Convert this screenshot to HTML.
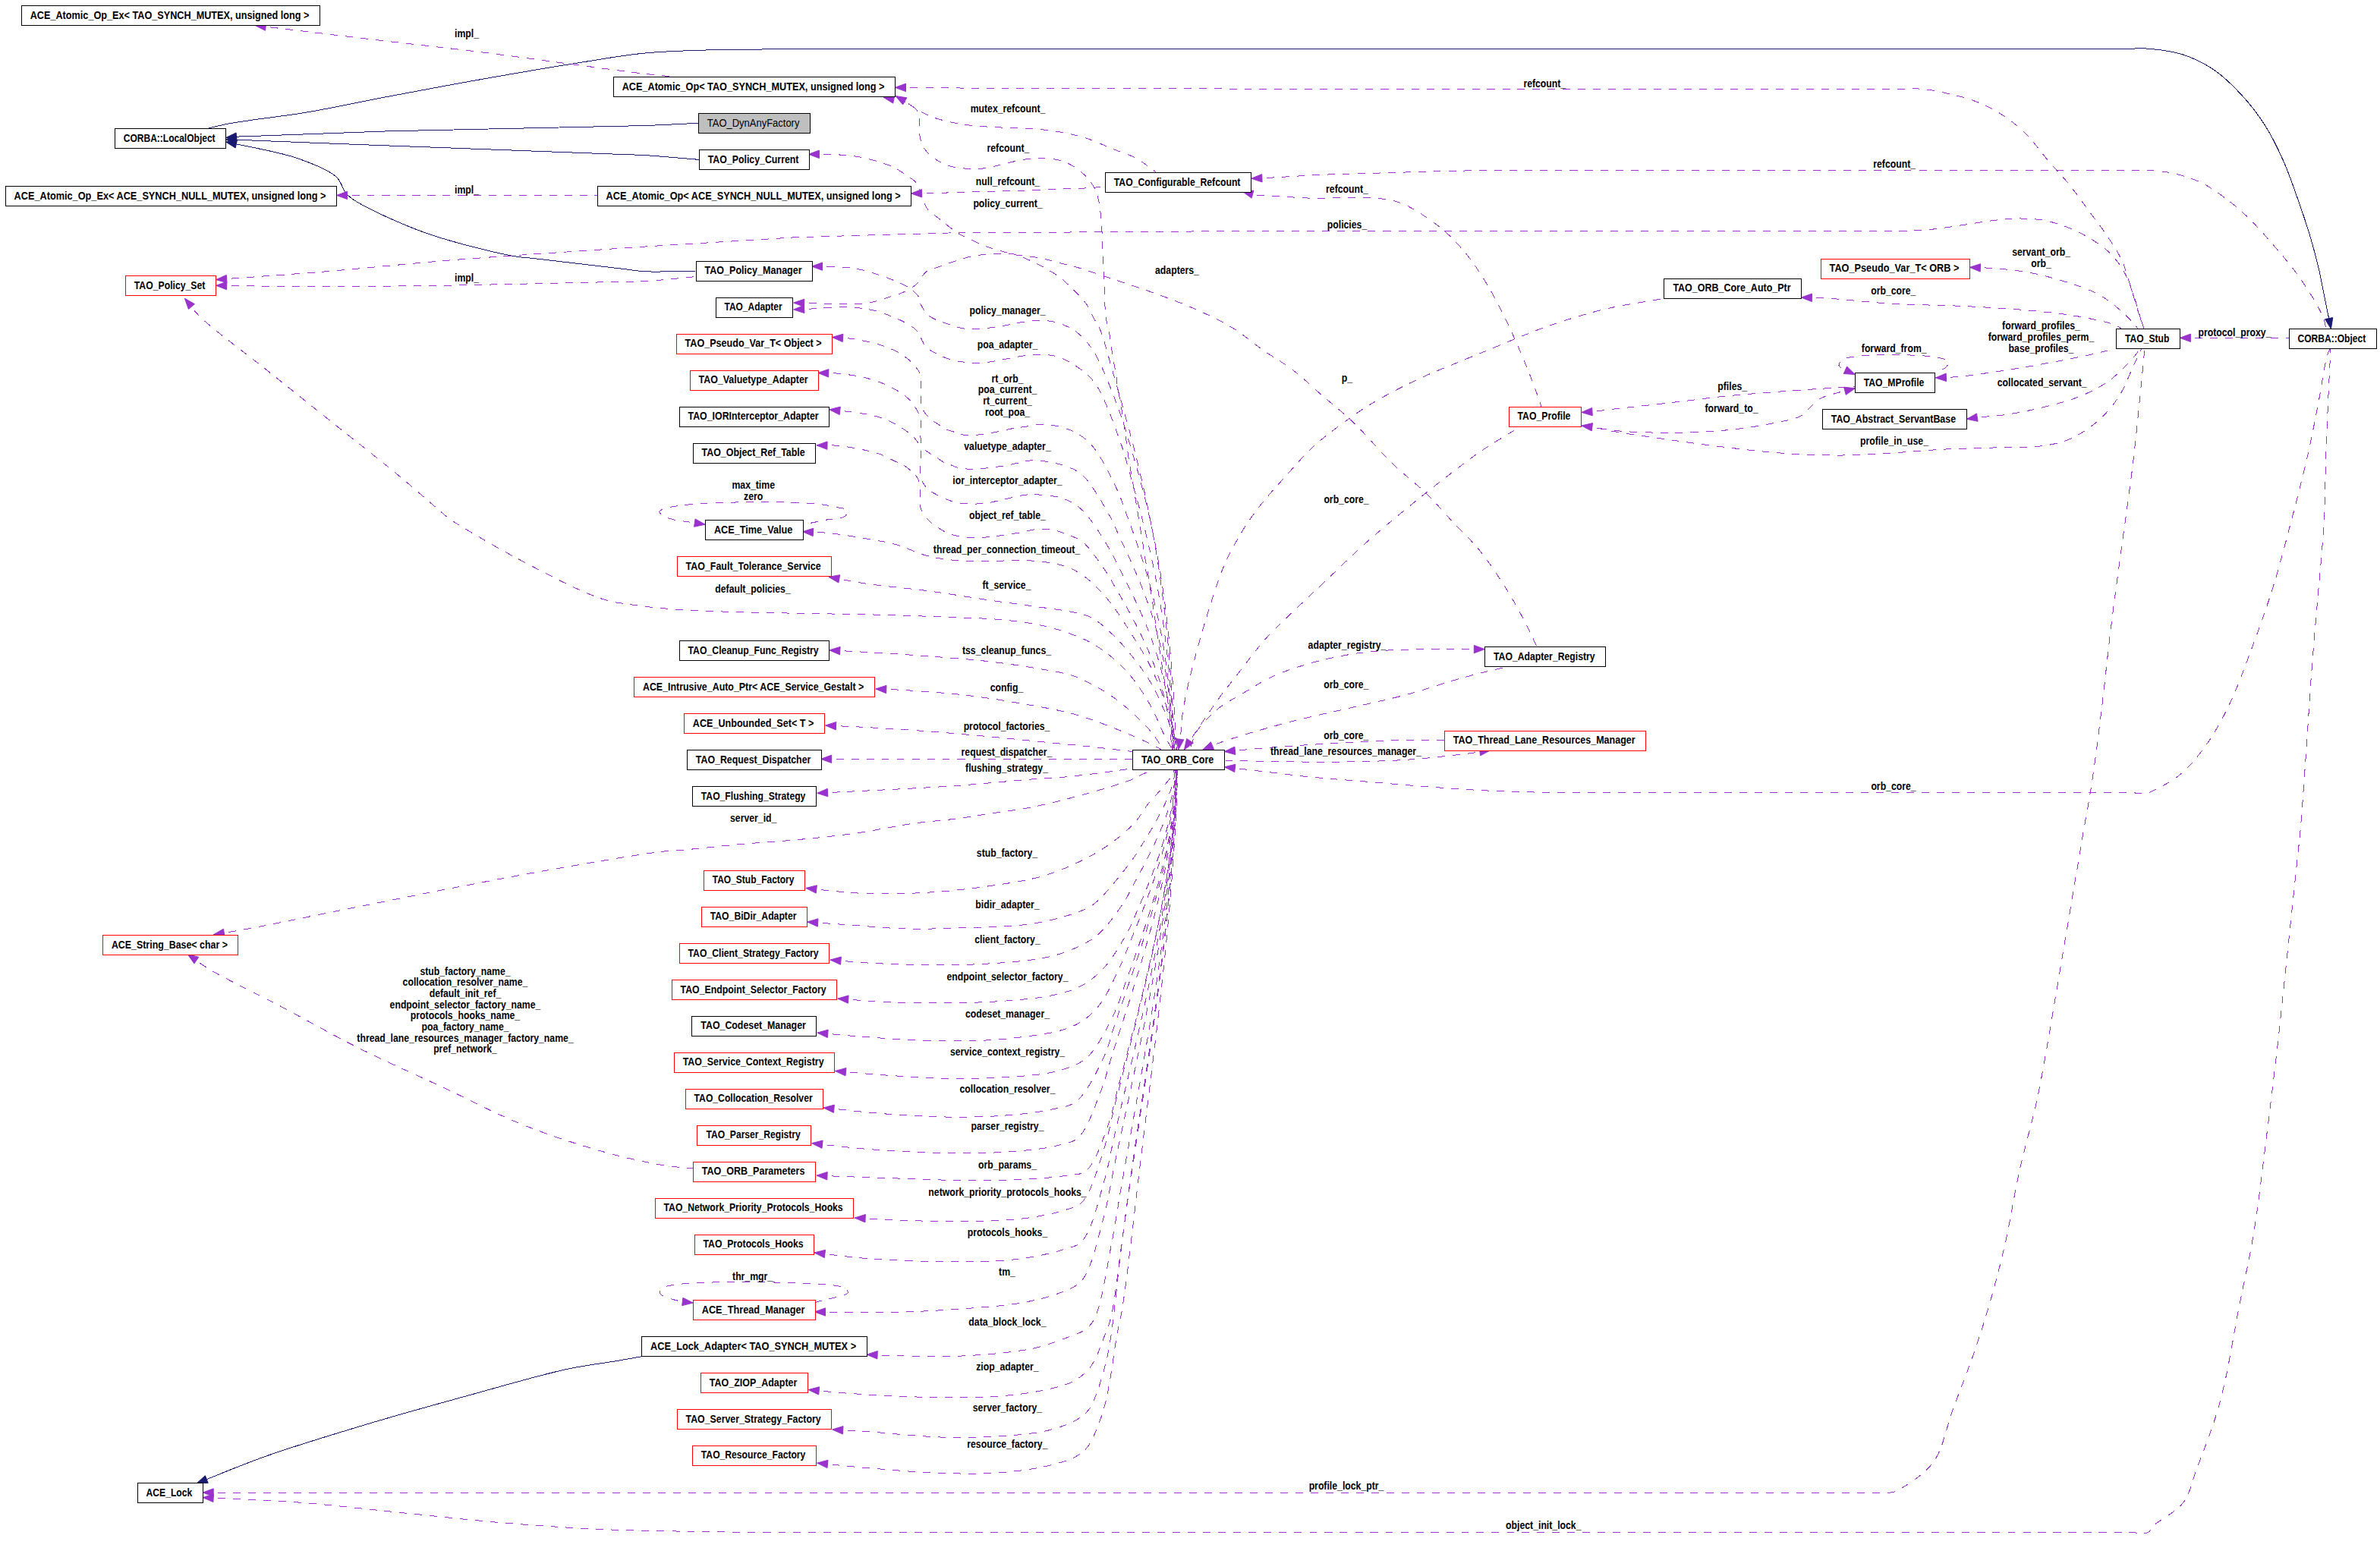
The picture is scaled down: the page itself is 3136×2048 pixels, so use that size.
<!DOCTYPE html>
<html><head><meta charset="utf-8"><style>
html,body{margin:0;padding:0;background:#fff;width:3136px;height:2048px;overflow:hidden}
svg{display:block}
text{font-family:"Liberation Sans",sans-serif;font-size:14.0px}
</style></head><body>
<svg width="3136" height="2048" viewBox="0 0 3136 2048">
<rect width="100%" height="100%" fill="#fff"/>
<g fill="none" stroke-width="1" shape-rendering="crispEdges">
<path d="M297.6,181.5C302.3,181.1 306.2,180.6 311.8,180.2C319.9,179.7 328.2,179.6 341.8,179.1C370.7,178.0 448.5,175.2 477.4,174.1C491.0,173.6 497.4,173.3 507.4,173.0C517.4,172.7 522.3,172.7 537.4,172.3C583.7,171.3 773.7,167.2 820.0,166.2C835.1,165.8 837.9,165.9 850.0,165.5C868.5,164.9 896.8,163.4 920.2,162.3" stroke="#191970"/>
<path d="M297.6,184.0C302.3,184.1 306.2,184.1 311.8,184.3C319.9,184.5 328.2,184.9 341.8,185.4C370.7,186.6 448.5,189.5 477.4,190.7C491.0,191.2 497.4,191.4 507.4,191.8C517.4,192.2 522.3,192.4 537.4,192.9C583.7,194.6 773.7,201.8 820.0,203.5C835.1,204.0 837.9,203.9 850.0,204.6C868.7,205.7 897.5,208.5 921.2,210.4" stroke="#191970"/>
<path d="M297.6,187.0C301.9,187.9 304.4,188.3 310.5,189.7C325.9,193.1 368.0,200.3 391.6,208.5C411.1,215.3 432.2,223.2 443.0,233.0C450.2,239.5 451.1,249.2 456.0,254.8C459.9,259.3 462.2,261.0 468.8,265.1C484.9,275.1 526.5,294.6 558.9,306.3C594.6,319.1 648.6,332.2 674.7,337.2C687.8,339.7 691.3,339.2 704.5,340.7C730.5,343.8 794.2,351.2 820.2,354.3C833.4,355.8 838.1,357.2 850.0,357.8C867.8,358.7 894.7,357.3 917.0,357.0" stroke="#191970"/>
<path d="M3071.4,433.3C3070.8,430.0 3070.3,427.4 3069.5,423.5C3068.3,417.7 3066.7,410.4 3064.9,401.8C3062.3,389.2 3059.2,370.8 3055.6,355.4C3052.0,339.9 3047.8,324.4 3043.2,309.0C3038.6,293.5 3033.3,278.3 3027.8,262.7C3022.0,246.4 3016.4,229.4 3009.2,213.2C3002.0,196.9 2994.0,180.1 2984.5,165.2C2975.3,150.8 2964.8,137.2 2953.5,125.0C2942.5,113.1 2931.0,101.5 2918.0,92.6C2905.2,83.8 2890.7,76.6 2876.2,71.9C2861.9,67.2 2844.9,65.4 2831.4,64.2C2820.4,63.3 2818.1,64.2 2801.4,64.2C2716.7,64.2 2114.7,64.2 2030.0,64.2C2013.3,64.2 2010.0,64.2 2000.0,64.2C1990.0,64.2 1986.8,64.2 1970.0,64.2C1881.0,64.2 1219.0,64.2 1130.0,64.2C1113.2,64.2 1110.0,64.2 1100.0,64.2C1090.0,64.2 1082.7,64.4 1070.0,64.5C1048.0,64.7 1002.0,65.0 980.0,65.2C967.3,65.3 962.9,65.2 950.0,65.5C926.4,66.1 881.9,67.0 850.0,70.0C820.4,72.8 796.1,77.5 764.8,82.4C726.3,88.5 678.9,96.6 636.0,104.2C593.1,111.8 547.9,120.3 507.4,128.0C471.1,134.9 436.0,142.7 404.4,148.0C377.7,152.5 349.3,155.6 330.0,158.5C317.8,160.3 309.7,161.3 300.0,163.2C290.8,165.0 282.1,167.3 273.2,169.4" stroke="#191970"/>
<path d="M259.3,1954.7C263.7,1953.0 266.2,1951.9 272.5,1949.5C287.8,1943.5 321.7,1929.2 351.6,1918.7C389.8,1905.2 439.4,1890.2 483.4,1877.0C527.2,1863.8 571.2,1851.7 615.2,1839.6C659.1,1827.5 710.4,1812.3 747.0,1804.4C772.6,1798.9 794.9,1796.6 813.0,1793.5C825.7,1791.3 834.7,1789.6 845.5,1787.7" stroke="#191970"/>
<path d="M336.2,33.5C350.4,35.2 360.7,36.4 378.7,38.6C410.0,42.4 464.5,48.9 507.4,54.0C550.3,59.1 593.1,63.6 636.0,69.0C678.9,74.4 726.3,81.1 764.8,86.2C796.1,90.3 826.9,94.6 850.0,97.3C865.8,99.1 876.6,100.0 889.9,101.3" stroke="#9a32cd" stroke-dasharray="10,10"/>
<path d="M443.6,257.4C453.6,257.4 458.5,257.4 473.6,257.4C520.0,257.4 710.3,257.4 756.7,257.4C771.8,257.4 776.7,257.4 786.7,257.4" stroke="#9a32cd" stroke-dasharray="10,10"/>
<path d="M284.7,376.3C333.1,376.8 399.7,377.9 430.0,377.9C443.8,377.9 447.2,377.7 460.0,377.6C482.7,377.4 531.9,376.8 554.6,376.6C567.4,376.5 574.6,376.5 584.6,376.3C594.6,376.1 600.1,376.0 614.6,375.7C652.5,374.9 782.1,372.1 820.0,371.3C834.5,371.0 838.0,371.4 850.0,370.7C867.9,369.7 894.7,366.6 917.0,364.5" stroke="#9a32cd" stroke-dasharray="10,10"/>
<path d="M1180.0,126.5C1183.0,128.1 1185.7,129.3 1189.0,131.3C1193.4,133.9 1198.4,137.8 1204.0,141.2C1210.8,145.3 1218.2,150.3 1227.2,153.8C1238.2,158.1 1252.9,161.1 1265.8,163.4C1278.6,165.6 1290.8,166.3 1304.4,167.3C1319.6,168.4 1337.5,168.1 1352.7,169.2C1366.3,170.2 1378.5,171.0 1391.3,173.1C1404.3,175.2 1417.3,177.9 1430.0,181.8C1443.0,185.8 1456.6,192.4 1468.5,197.2C1478.9,201.3 1488.4,203.8 1497.5,208.8C1506.7,213.8 1514.9,221.1 1523.6,227.2" stroke="#9a32cd" stroke-dasharray="10,10"/>
<path d="M1200.6,255.0C1209.5,254.9 1216.6,254.8 1227.2,254.6C1242.8,254.2 1265.8,253.4 1285.1,252.8C1304.4,252.3 1323.7,251.9 1343.0,251.3C1362.3,250.7 1383.6,249.7 1401.0,249.0C1415.2,248.4 1429.4,248.2 1439.6,247.4C1446.3,246.9 1450.7,246.2 1456.3,245.6" stroke="#9a32cd" stroke-dasharray="10,10"/>
<path d="M1164.0,128.2C1172.7,130.0 1182.4,130.4 1190.0,133.5C1196.8,136.3 1204.3,140.3 1207.9,145.1C1210.8,149.0 1211.1,153.6 1211.8,158.6C1212.6,164.4 1210.8,171.7 1211.8,177.9C1212.8,183.9 1214.4,190.2 1217.6,195.3C1220.8,200.5 1225.8,205.0 1231.1,208.8C1236.7,212.8 1243.4,216.3 1250.4,218.5C1258.0,220.9 1267.1,221.8 1275.5,222.3C1283.8,222.8 1292.5,222.6 1300.6,221.4C1308.5,220.3 1315.5,217.4 1323.7,215.6C1332.8,213.6 1344.0,211.0 1352.7,209.8C1359.8,208.8 1364.9,208.1 1372.0,208.4C1380.7,208.7 1392.2,209.6 1401.0,212.7C1409.4,215.7 1417.5,220.8 1424.1,226.2C1430.2,231.2 1435.7,237.3 1439.6,243.6C1443.3,249.6 1445.4,255.6 1447.3,262.9C1449.6,271.8 1450.2,282.8 1451.2,293.7C1452.3,305.8 1452.5,319.5 1453.1,332.4C1453.7,345.3 1454.4,357.5 1455.0,371.0C1455.7,385.7 1455.5,406.1 1457.0,417.3C1457.9,423.8 1459.4,427.2 1460.5,432.6C1461.7,438.8 1462.7,445.8 1463.7,452.4C1464.7,459.0 1465.4,465.6 1466.5,472.2C1467.6,478.8 1469.4,485.5 1470.4,492.0C1471.4,498.3 1471.5,504.1 1472.5,510.5C1473.6,517.3 1475.5,524.9 1476.7,531.7C1477.8,538.0 1478.7,543.8 1479.6,550.1C1480.6,556.6 1481.5,563.4 1482.4,570.0C1483.3,576.6 1484.3,583.2 1485.2,589.8C1486.1,596.4 1487.0,603.3 1488.0,609.6C1488.9,615.3 1490.0,620.0 1491.0,626.0C1492.3,633.2 1493.7,642.0 1495.0,650.0C1496.3,658.0 1497.5,666.4 1498.8,674.0C1499.9,681.0 1501.1,687.4 1502.2,694.0C1503.3,700.5 1504.5,707.0 1505.5,713.5C1506.5,720.0 1507.1,726.4 1508.2,733.0C1509.3,739.7 1511.2,746.7 1512.3,753.4C1513.4,759.8 1514.0,765.9 1515.0,772.3C1516.0,778.8 1517.4,785.6 1518.4,792.0C1519.4,798.1 1519.9,802.2 1521.0,810.0C1523.1,824.2 1526.8,850.0 1530.0,870.0C1533.2,890.0 1536.9,912.0 1540.0,930.0C1542.5,944.7 1545.2,959.3 1547.0,970.0C1548.2,977.2 1549.0,982.0 1550.0,988.0" stroke="#9a32cd" stroke-dasharray="10,10"/>
<path d="M1065.4,203.3C1070.6,203.3 1074.4,203.1 1080.9,203.3C1092.2,203.6 1111.9,203.5 1127.2,206.0C1142.8,208.6 1161.5,213.7 1173.6,218.8C1182.2,222.4 1188.3,226.9 1194.4,231.0C1199.5,234.5 1204.7,237.4 1207.9,241.6C1210.9,245.5 1211.7,250.2 1213.7,255.1C1216.1,260.9 1217.4,268.8 1221.4,274.4C1225.7,280.4 1232.8,284.3 1239.2,289.5C1246.2,295.2 1254.5,302.4 1261.9,307.1C1268.3,311.1 1274.4,313.6 1280.8,316.6C1287.4,319.7 1294.3,323.0 1301.0,325.4C1307.3,327.7 1313.8,329.3 1319.9,331.0C1325.6,332.6 1330.5,334.4 1336.3,335.5C1342.6,336.8 1349.9,337.0 1356.5,338.0C1362.9,338.9 1369.1,339.7 1375.4,341.1C1381.7,342.5 1388.0,344.6 1394.3,346.2C1400.6,347.8 1406.9,348.9 1413.2,350.6C1419.5,352.3 1425.8,354.3 1432.1,356.3C1438.4,358.3 1444.7,360.5 1451.0,362.6C1457.3,364.7 1461.9,366.2 1469.9,368.9C1484.1,373.7 1510.1,382.2 1529.0,389.2C1546.8,395.8 1564.1,402.3 1580.5,409.8C1596.2,417.0 1611.6,424.3 1625.7,433.1C1639.4,441.6 1651.3,452.4 1664.3,461.5C1677.1,470.4 1690.4,477.6 1703.0,487.2C1716.2,497.3 1728.5,509.3 1741.6,520.7C1755.2,532.5 1768.9,543.0 1783.1,556.6C1799.7,572.4 1817.5,594.2 1834.6,610.7C1850.2,625.7 1867.4,638.6 1881.0,651.9C1892.6,663.3 1900.9,673.6 1911.8,685.3C1923.9,698.3 1938.2,711.2 1950.5,726.5C1964.0,743.4 1978.2,765.3 1989.0,783.0C1998.1,797.8 2005.6,812.4 2012.0,825.0C2017.1,835.0 2020.7,843.1 2025.0,852.2" stroke="#9a32cd" stroke-dasharray="10,10"/>
<path d="M1045.7,399.0C1052.4,399.2 1057.9,399.3 1065.7,399.5C1076.5,399.8 1091.5,400.8 1104.4,400.8C1117.3,400.8 1131.4,401.3 1143.0,399.5C1152.9,398.0 1161.7,394.5 1170.0,392.0C1177.2,389.8 1183.6,388.3 1190.0,385.3C1196.6,382.2 1203.8,378.1 1209.0,373.3C1213.7,368.9 1215.6,361.8 1220.3,358.2C1224.9,354.7 1230.8,354.1 1236.7,351.9C1243.4,349.4 1251.2,346.6 1258.2,344.3C1264.7,342.2 1270.7,340.1 1277.0,338.6C1283.3,337.1 1289.7,336.2 1296.0,335.5C1302.3,334.8 1308.5,334.3 1314.9,334.2C1321.5,334.1 1328.3,333.5 1335.0,334.8C1342.2,336.2 1349.5,339.9 1356.5,343.0C1363.4,346.0 1370.0,349.4 1376.6,353.1C1383.4,356.9 1390.5,360.9 1396.8,365.7C1403.1,370.5 1408.8,376.4 1414.5,382.1C1420.2,387.8 1426.3,393.5 1430.8,399.8C1435.0,405.7 1437.6,412.6 1440.9,418.7C1443.9,424.3 1446.8,427.8 1449.8,435.0C1455.1,447.8 1460.9,472.0 1466.2,490.1C1471.3,507.6 1476.3,524.8 1481.0,541.9C1485.7,558.6 1490.1,575.0 1494.4,591.5C1498.5,607.9 1502.5,624.1 1506.2,640.4C1509.9,656.8 1513.4,673.1 1516.6,689.8C1519.9,706.6 1522.9,723.5 1525.6,740.8C1528.4,758.6 1530.9,776.5 1533.2,794.9C1535.6,814.0 1537.6,833.4 1539.5,853.3C1541.4,874.1 1543.0,895.4 1544.4,917.2C1545.8,940.2 1546.8,964.4 1548.0,988.0" stroke="#9a32cd" stroke-dasharray="10,10"/>
<path d="M1069.6,351.1C1076.9,351.1 1083.2,350.7 1091.5,351.1C1102.5,351.6 1117.3,352.1 1130.0,354.5C1143.0,357.0 1157.3,361.8 1168.7,366.0C1178.1,369.4 1188.1,373.8 1193.9,377.0C1197.2,378.8 1198.9,380.0 1201.4,382.1C1204.4,384.5 1208.7,388.0 1210.3,390.9C1211.4,393.0 1210.7,394.9 1211.5,397.2C1212.5,400.2 1215.0,404.4 1216.6,407.3C1217.9,409.7 1218.3,411.6 1220.3,413.6C1223.1,416.4 1228.3,419.0 1233.0,421.2C1238.3,423.7 1244.5,425.5 1250.6,427.5C1257.1,429.6 1264.0,432.3 1270.8,433.2C1277.4,434.1 1284.3,433.5 1290.9,433.2C1297.3,432.9 1303.5,432.1 1309.8,431.3C1316.1,430.4 1322.4,429.3 1328.7,428.1C1335.0,426.9 1341.3,425.3 1347.6,424.3C1353.9,423.4 1360.2,422.5 1366.6,422.4C1373.2,422.3 1380.2,422.4 1386.7,423.7C1393.2,425.0 1399.8,427.3 1405.6,430.0C1411.1,432.6 1415.7,435.1 1420.8,439.5C1427.6,445.4 1434.7,452.8 1441.5,463.8C1452.4,481.4 1465.5,516.5 1473.8,538.7C1480.2,555.8 1483.9,569.6 1488.6,585.0C1493.1,599.9 1497.5,614.7 1501.5,629.6C1505.5,644.3 1509.3,658.9 1512.8,673.7C1516.2,688.4 1519.4,703.2 1522.4,718.3C1525.3,733.5 1528.0,748.9 1530.5,764.5C1533.0,780.6 1535.2,796.9 1537.2,813.5C1539.2,830.8 1541.0,848.3 1542.6,866.4C1544.2,885.2 1545.6,904.4 1546.8,924.2C1548.1,944.9 1548.9,966.7 1550.0,988.0" stroke="#9a32cd" stroke-dasharray="10,10"/>
<path d="M1045.7,408.0C1052.4,407.7 1057.5,407.6 1065.7,407.2C1078.9,406.6 1101.6,403.9 1117.2,404.6C1130.2,405.2 1142.9,407.2 1152.9,409.5C1160.3,411.2 1165.7,413.5 1172.0,415.9C1178.3,418.3 1184.7,420.9 1190.5,424.0C1196.2,427.1 1203.1,430.9 1206.7,434.4C1209.1,436.7 1209.9,438.9 1211.4,441.4C1213.0,444.2 1214.5,447.8 1216.0,450.6C1217.2,452.9 1217.6,454.9 1219.5,457.0C1222.4,460.1 1228.3,463.0 1233.4,465.7C1239.0,468.7 1245.6,471.9 1252.0,473.8C1258.3,475.7 1265.1,476.5 1271.6,477.3C1277.8,478.0 1283.8,478.6 1290.0,478.4C1296.5,478.2 1303.3,477.1 1309.8,476.1C1316.1,475.1 1322.1,473.7 1328.3,472.6C1334.5,471.4 1340.6,470.0 1346.9,469.2C1353.4,468.3 1359.9,467.5 1367.0,467.5C1374.8,467.5 1383.6,467.3 1391.8,469.6C1400.8,472.1 1410.1,477.2 1418.5,483.0C1427.3,489.1 1435.4,494.6 1443.2,505.6C1455.7,523.2 1469.1,562.7 1477.2,585.2C1482.9,601.2 1485.5,613.2 1489.5,627.1C1493.3,640.6 1497.1,653.9 1500.7,667.3C1504.2,680.5 1507.6,693.6 1510.8,706.8C1513.9,720.0 1517.0,733.3 1519.7,746.7C1522.6,760.3 1525.2,774.0 1527.6,788.0C1530.0,802.4 1532.2,816.9 1534.2,831.8C1536.3,847.2 1538.1,862.9 1539.7,879.0C1541.4,895.9 1542.8,913.1 1544.0,930.8C1545.2,949.3 1546.0,968.9 1547.0,988.0" stroke="#9a32cd" stroke-dasharray="10,10"/>
<path d="M1096.6,444.5C1103.5,444.9 1109.6,444.9 1117.2,445.8C1126.9,447.0 1140.7,449.5 1150.0,451.8C1157.1,453.6 1162.5,455.3 1168.5,457.6C1174.5,459.9 1180.3,462.2 1185.9,465.7C1191.9,469.4 1198.7,474.6 1203.3,479.6C1207.3,483.9 1210.9,488.6 1212.5,493.5C1213.9,497.9 1212.9,503.0 1213.1,507.4C1213.3,511.4 1213.6,514.9 1213.7,519.0C1213.8,523.7 1212.6,529.4 1213.7,534.0C1214.8,538.3 1217.5,542.5 1220.0,545.8C1222.2,548.8 1224.7,551.0 1227.6,553.3C1230.7,555.8 1234.8,558.2 1238.0,560.3C1240.8,562.2 1243.1,564.1 1246.0,565.5C1249.2,567.0 1253.1,567.8 1256.5,569.0C1259.7,570.1 1262.5,571.6 1265.8,572.4C1269.4,573.2 1273.1,573.5 1277.4,573.6C1282.6,573.7 1288.8,573.1 1294.8,572.4C1301.2,571.6 1308.0,570.3 1314.4,569.0C1320.7,567.8 1326.9,566.0 1333.0,564.9C1338.8,563.9 1343.8,563.4 1350.0,562.5C1357.4,561.5 1365.5,558.7 1374.6,559.1C1386.1,559.6 1402.1,562.9 1413.2,568.1C1423.2,572.8 1430.8,578.1 1439.0,587.4C1450.7,600.7 1463.6,627.8 1471.7,644.9C1477.7,657.7 1480.8,668.3 1485.1,679.9C1489.3,691.3 1493.5,702.5 1497.3,713.8C1501.2,725.0 1504.9,736.1 1508.3,747.4C1511.8,758.7 1515.0,770.0 1518.0,781.6C1521.0,793.2 1523.8,805.0 1526.4,817.0C1529.0,829.3 1531.3,841.8 1533.4,854.6C1535.5,867.8 1537.4,881.3 1539.0,895.1C1540.7,909.5 1542.1,924.2 1543.2,939.3C1544.4,955.1 1545.1,971.8 1546.0,988.0" stroke="#9a32cd" stroke-dasharray="10,10"/>
<path d="M1077.8,491.4C1086.7,491.7 1094.7,491.3 1104.4,492.2C1116.1,493.3 1131.0,495.4 1143.0,498.6C1154.0,501.6 1164.3,505.2 1173.8,510.2C1183.1,515.1 1193.0,520.9 1199.6,528.2C1205.6,534.9 1210.3,543.2 1212.5,551.4C1214.7,559.5 1212.1,570.0 1213.0,577.1C1213.6,582.2 1213.9,586.6 1216.0,590.0C1217.8,593.0 1221.2,594.8 1224.0,596.7C1226.6,598.5 1229.3,599.5 1232.2,601.4C1235.8,603.7 1240.2,607.6 1243.8,609.5C1246.6,611.0 1249.0,611.3 1251.9,612.4C1255.2,613.6 1259.0,615.5 1262.3,616.4C1265.1,617.1 1267.5,617.3 1270.4,617.6C1273.9,618.0 1277.7,618.5 1282.0,618.5C1287.2,618.5 1294.5,617.5 1299.4,617.0C1303.0,616.6 1305.0,616.4 1308.7,615.9C1314.0,615.2 1321.9,614.2 1328.3,613.0C1334.6,611.8 1341.0,610.0 1346.9,608.9C1352.1,607.9 1355.6,606.7 1361.7,606.7C1371.6,606.8 1389.1,609.4 1400.4,613.1C1410.1,616.3 1417.7,618.7 1426.0,626.0C1438.4,636.9 1452.8,663.4 1461.6,678.8C1467.9,689.9 1471.1,698.9 1475.7,708.8C1480.3,718.4 1484.8,727.9 1489.1,737.5C1493.4,747.0 1497.6,756.5 1501.5,766.1C1505.4,775.7 1509.2,785.4 1512.7,795.4C1516.3,805.5 1519.6,815.8 1522.6,826.4C1525.7,837.4 1528.6,848.6 1531.1,860.2C1533.7,872.4 1536.0,884.8 1537.9,897.8C1539.9,911.4 1541.6,925.5 1542.9,940.0C1544.3,955.5 1545.0,972.0 1546.0,988.0" stroke="#9a32cd" stroke-dasharray="10,10"/>
<path d="M1092.8,539.8C1100.9,540.7 1108.5,541.3 1117.2,542.4C1127.3,543.7 1142.2,545.8 1150.0,547.5C1154.5,548.5 1156.5,549.0 1160.4,550.4C1165.5,552.2 1172.0,555.0 1177.8,558.0C1184.0,561.3 1191.5,566.0 1196.3,569.5C1199.7,572.0 1201.9,573.5 1204.4,576.5C1207.4,580.1 1210.9,584.1 1212.5,590.0C1215.0,598.9 1211.1,617.8 1212.5,626.0C1213.3,630.5 1214.1,632.8 1216.0,636.0C1218.2,639.7 1220.7,643.2 1225.3,646.6C1232.7,652.1 1248.7,659.3 1258.8,662.0C1266.5,664.1 1273.3,663.8 1280.0,664.0C1286.1,664.2 1291.2,664.0 1297.4,663.3C1304.5,662.5 1312.2,660.6 1320.0,659.0C1328.4,657.2 1338.4,654.2 1346.0,653.0C1351.9,652.1 1355.3,651.5 1361.7,651.7C1371.7,652.0 1389.2,653.0 1400.4,656.9C1410.2,660.3 1417.7,664.5 1426.0,672.3C1437.8,683.2 1451.6,706.8 1460.2,720.8C1466.2,730.7 1469.5,738.6 1474.0,747.4C1478.5,756.2 1483.0,764.8 1487.3,773.5C1491.6,782.2 1495.8,790.9 1499.8,799.7C1503.8,808.5 1507.7,817.3 1511.3,826.4C1515.0,835.5 1518.4,844.7 1521.5,854.2C1524.7,863.9 1527.7,873.7 1530.3,883.7C1532.9,894.1 1535.3,904.7 1537.2,915.5C1539.3,926.7 1540.9,938.3 1542.2,950.1C1543.6,962.4 1544.1,975.4 1545.0,988.0" stroke="#9a32cd" stroke-dasharray="10,10"/>
<path d="M1076.0,586.9C1085.5,587.1 1093.9,586.4 1104.4,587.4C1117.9,588.7 1139.7,593.0 1150.0,595.6C1155.4,597.0 1157.8,597.8 1162.2,599.6C1167.7,601.8 1175.1,606.0 1180.1,608.3C1183.7,610.0 1186.3,610.6 1189.4,612.4C1192.9,614.4 1196.8,617.4 1199.8,619.9C1202.4,622.0 1204.7,623.5 1206.7,626.3C1209.2,629.8 1211.4,634.5 1212.5,640.0C1214.0,647.4 1210.7,659.7 1212.5,667.2C1213.9,673.1 1217.2,678.0 1220.2,682.0C1222.7,685.3 1225.0,687.3 1228.5,690.0C1233.4,693.8 1241.0,699.1 1247.6,702.0C1253.8,704.8 1260.2,706.3 1266.8,707.4C1273.5,708.6 1281.0,708.8 1287.6,708.8C1293.7,708.8 1298.9,708.0 1305.0,707.4C1311.6,706.7 1318.9,705.8 1325.8,704.8C1332.8,703.8 1340.1,702.5 1346.7,701.3C1352.7,700.2 1358.2,698.4 1364.0,697.8C1369.8,697.2 1375.9,697.3 1381.4,697.8C1386.3,698.3 1390.4,699.1 1395.3,700.4C1400.9,702.0 1407.6,704.7 1413.0,707.0C1417.7,709.1 1421.3,709.7 1426.0,713.5C1434.4,720.3 1447.0,738.3 1454.6,749.3C1460.6,757.9 1464.4,765.3 1469.1,773.4C1473.9,781.5 1478.6,789.6 1483.2,797.7C1487.7,805.9 1492.2,814.1 1496.4,822.4C1500.7,830.7 1504.8,839.0 1508.7,847.5C1512.6,856.0 1516.2,864.6 1519.6,873.4C1523.0,882.2 1526.1,891.1 1528.9,900.2C1531.7,909.3 1534.2,918.6 1536.2,928.1C1538.3,937.7 1540.1,947.4 1541.4,957.3C1542.7,967.4 1543.1,977.8 1544.0,988.0" stroke="#9a32cd" stroke-dasharray="10,10"/>
<path d="M929.2,691.2C924.6,690.5 919.8,689.8 915.5,689.1C911.6,688.5 908.3,688.0 904.2,687.4C899.2,686.6 893.1,686.3 887.8,684.9C882.6,683.5 875.9,681.6 872.7,679.2C870.7,677.7 868.6,675.6 868.9,674.2C869.2,672.7 872.4,671.5 875.2,670.4C879.7,668.6 887.0,667.7 894.1,666.6C903.2,665.2 914.6,664.2 925.6,663.5C937.6,662.7 950.8,662.6 963.4,662.2C976.0,661.8 988.7,661.3 1001.3,661.3C1013.9,661.3 1026.5,661.7 1039.1,662.2C1051.7,662.7 1065.6,662.8 1076.9,664.1C1086.2,665.1 1095.0,666.9 1102.1,668.5C1107.4,669.7 1114.6,669.8 1116.0,672.3C1117.1,674.2 1115.8,678.3 1113.5,680.3C1109.6,683.8 1097.6,683.4 1089.5,685.0C1081.2,686.6 1070.0,689.0 1064.3,690.0C1061.4,690.5 1059.9,690.7 1057.7,691.0" stroke="#9a32cd" stroke-dasharray="10,10"/>
<path d="M1057.5,700.7C1068.8,701.3 1079.0,701.2 1091.5,702.5C1106.9,704.1 1127.1,707.4 1143.0,710.2C1156.8,712.6 1168.9,714.3 1181.6,717.9C1194.6,721.6 1207.2,728.7 1220.2,732.1C1232.9,735.5 1245.9,737.2 1258.8,738.5C1271.6,739.8 1283.6,739.7 1297.4,739.8C1313.3,739.9 1333.0,737.9 1348.9,738.5C1362.7,739.0 1376.0,740.1 1387.5,742.4C1397.0,744.3 1404.9,746.1 1413.2,750.1C1422.2,754.4 1430.8,760.9 1439.0,768.1C1448.0,776.1 1456.5,785.9 1464.7,796.4C1473.7,808.0 1482.1,821.6 1490.5,835.0C1499.3,849.0 1508.6,863.3 1516.2,878.8C1524.1,895.0 1531.2,913.2 1536.8,930.3C1542.2,946.6 1547.8,969.4 1549.6,979.2C1550.3,983.3 1550.2,985.1 1550.5,988.0" stroke="#9a32cd" stroke-dasharray="10,10"/>
<path d="M1092.0,760.4C1109.0,763.4 1124.2,766.6 1143.0,769.4C1166.0,772.8 1194.5,775.0 1220.2,778.4C1246.0,781.8 1272.8,786.4 1297.4,790.0C1319.8,793.3 1341.5,796.1 1361.7,799.0C1379.8,801.6 1399.1,803.6 1413.2,806.7C1423.4,809.0 1430.8,810.1 1439.0,814.4C1448.1,819.2 1456.4,827.2 1464.7,835.0C1473.6,843.4 1482.2,853.0 1490.5,863.3C1499.4,874.4 1508.6,886.4 1516.2,899.4C1524.1,912.9 1531.3,929.1 1536.8,943.1C1541.7,955.5 1546.6,971.2 1548.4,979.2C1549.3,983.1 1549.1,985.1 1549.5,988.0" stroke="#9a32cd" stroke-dasharray="10,10"/>
<path d="M243.4,393.3C250.2,401.4 253.9,407.9 263.7,417.5C282.2,435.6 322.3,464.4 351.6,487.8C380.9,511.2 410.1,534.6 439.4,558.0C468.7,581.4 500.8,606.4 527.3,628.4C549.8,647.0 577.6,672.2 588.9,681.1C593.0,684.3 593.1,684.5 597.6,687.4C611.1,696.1 651.0,719.8 681.1,735.7C714.9,753.6 762.1,778.8 791.0,788.5C808.5,794.4 818.8,794.9 835.0,797.3C854.7,800.2 874.6,802.1 900.9,803.8C939.8,806.3 1002.4,807.2 1045.9,808.2C1081.5,809.0 1110.2,809.0 1143.0,809.8C1176.8,810.6 1214.2,811.9 1246.0,813.2C1273.5,814.3 1299.9,814.7 1323.0,817.0C1342.0,818.9 1358.8,821.2 1374.6,824.7C1388.5,827.8 1401.7,832.0 1413.2,836.3C1422.8,839.9 1430.6,843.1 1439.0,847.9C1447.8,852.9 1456.4,858.9 1464.7,865.9C1473.6,873.4 1482.4,881.8 1490.5,891.7C1499.7,902.9 1508.8,917.1 1516.2,930.3C1523.3,942.9 1528.8,958.4 1534.2,968.9C1538.1,976.5 1541.4,981.6 1545.0,988.0" stroke="#9a32cd" stroke-dasharray="10,10"/>
<path d="M1092.8,856.9C1109.5,857.8 1124.5,858.4 1143.0,859.5C1166.0,860.9 1194.5,862.7 1220.2,864.6C1245.9,866.5 1272.9,868.4 1297.4,871.1C1319.8,873.6 1341.5,876.7 1361.7,880.1C1379.9,883.2 1399.2,885.9 1413.2,890.4C1423.5,893.7 1430.5,897.6 1439.0,902.0C1447.7,906.5 1456.3,911.6 1464.7,917.4C1473.5,923.5 1482.1,930.5 1490.5,938.0C1499.3,945.9 1509.4,955.6 1516.2,963.7C1521.5,970.0 1526.0,977.3 1529.0,981.8C1530.7,984.4 1531.7,985.9 1533.0,988.0" stroke="#9a32cd" stroke-dasharray="10,10"/>
<path d="M1153.8,907.9C1167.3,908.5 1178.7,908.7 1194.4,909.7C1216.1,911.1 1246.0,913.1 1271.7,916.1C1297.5,919.1 1324.4,923.4 1348.9,927.7C1371.4,931.6 1394.6,935.7 1413.2,940.6C1427.8,944.5 1439.0,948.7 1451.8,953.4C1464.8,958.1 1478.1,963.6 1490.5,968.9C1502.1,973.9 1517.3,980.8 1523.9,984.3C1526.8,985.8 1528.0,986.8 1530.0,988.0" stroke="#9a32cd" stroke-dasharray="10,10"/>
<path d="M1087.6,956.0C1106.1,956.9 1123.0,957.5 1143.0,958.6C1166.6,959.9 1194.5,961.8 1220.2,963.7C1245.9,965.6 1271.7,967.8 1297.4,970.2C1323.1,972.6 1350.0,975.5 1374.6,977.9C1397.0,980.1 1418.5,982.1 1439.0,984.3C1457.6,986.3 1474.6,988.4 1492.4,990.5" stroke="#9a32cd" stroke-dasharray="10,10"/>
<path d="M1081.7,1000.3C1091.7,1000.3 1096.2,1000.3 1111.7,1000.3C1164.6,1000.3 1409.5,1000.3 1462.4,1000.3C1477.9,1000.3 1482.4,1000.3 1492.4,1000.3" stroke="#9a32cd" stroke-dasharray="10,10"/>
<path d="M1076.6,1045.3C1098.7,1044.2 1118.2,1043.3 1143.0,1042.0C1174.4,1040.4 1220.6,1038.2 1250.0,1036.2C1270.6,1034.8 1285.0,1033.5 1302.5,1032.0C1320.0,1030.5 1337.5,1028.7 1355.0,1027.3C1372.5,1025.9 1390.1,1025.3 1407.6,1023.6C1425.1,1021.9 1444.6,1019.3 1460.0,1017.3C1472.1,1015.7 1481.6,1014.2 1492.4,1012.6" stroke="#9a32cd" stroke-dasharray="10,10"/>
<path d="M281.5,1231.7C297.7,1228.9 310.8,1227.0 330.2,1223.4C359.2,1218.0 399.7,1209.5 438.3,1201.8C482.9,1192.9 534.3,1182.3 582.4,1173.0C630.4,1163.7 678.5,1154.4 726.6,1146.0C774.6,1137.6 840.8,1126.1 870.7,1122.5C884.1,1120.9 888.0,1121.3 900.0,1120.2C919.3,1118.5 950.4,1114.9 975.6,1112.6C1000.8,1110.3 1026.1,1109.0 1051.3,1106.6C1076.5,1104.2 1101.8,1101.7 1126.9,1098.2C1152.2,1094.7 1179.0,1088.7 1202.5,1085.4C1222.9,1082.5 1242.3,1081.3 1260.0,1079.0C1275.3,1077.0 1287.6,1074.8 1302.5,1072.5C1319.1,1070.0 1337.6,1067.9 1355.0,1064.6C1372.6,1061.3 1390.1,1057.0 1407.6,1052.5C1425.1,1048.0 1444.8,1042.5 1460.0,1037.8C1471.9,1034.2 1484.5,1030.2 1491.6,1027.3C1495.4,1025.7 1496.5,1024.7 1500.0,1023.1C1505.4,1020.5 1516.7,1014.8 1521.0,1013.7C1522.8,1013.2 1523.7,1013.5 1525.0,1013.4" stroke="#9a32cd" stroke-dasharray="10,10"/>
<path d="M247.3,1257.7C256.9,1264.3 263.5,1270.0 276.1,1277.5C297.5,1290.4 334.8,1307.8 366.2,1324.3C400.6,1342.4 438.0,1363.9 474.3,1382.0C510.1,1399.9 546.4,1415.6 582.4,1432.4C618.4,1449.2 654.0,1468.4 690.5,1482.9C726.1,1497.1 766.0,1509.8 798.6,1518.9C824.9,1526.2 850.7,1531.6 870.7,1535.1C884.7,1537.5 899.7,1538.8 906.8,1539.5C909.8,1539.8 911.1,1539.8 913.2,1540.0" stroke="#9a32cd" stroke-dasharray="10,10"/>
<path d="M1061.9,1170.4C1071.8,1171.5 1080.3,1172.6 1091.5,1173.7C1106.3,1175.1 1124.1,1177.0 1143.0,1177.6C1166.1,1178.3 1194.5,1177.8 1220.2,1176.3C1246.0,1174.8 1271.7,1172.2 1297.4,1168.6C1323.2,1164.9 1351.8,1161.0 1374.6,1154.4C1393.8,1148.9 1410.4,1141.5 1426.0,1133.8C1440.1,1126.8 1452.9,1119.3 1464.7,1110.7C1476.0,1102.5 1487.5,1092.7 1495.6,1083.7C1502.2,1076.4 1505.5,1068.8 1511.0,1061.8C1516.6,1054.7 1523.5,1047.7 1529.0,1041.2C1533.8,1035.5 1538.7,1030.1 1542.0,1025.0C1544.6,1020.9 1546.0,1017.3 1548.0,1013.4" stroke="#9a32cd" stroke-dasharray="10,10"/>
<path d="M1063.7,1215.0C1081.5,1216.3 1097.7,1217.5 1117.2,1218.8C1140.6,1220.4 1168.6,1223.4 1194.4,1224.0C1220.1,1224.6 1245.9,1223.6 1271.7,1222.7C1297.4,1221.8 1325.9,1221.7 1348.9,1218.8C1367.9,1216.4 1384.7,1213.2 1400.4,1208.5C1414.4,1204.3 1428.0,1200.2 1439.0,1193.0C1449.2,1186.2 1456.0,1177.2 1464.7,1167.3C1475.1,1155.5 1490.1,1135.8 1496.7,1126.3C1500.1,1121.5 1501.3,1118.8 1503.7,1115.0C1506.2,1111.0 1508.7,1107.0 1511.2,1102.8C1513.7,1098.6 1516.3,1094.4 1518.8,1090.1C1521.3,1085.7 1523.8,1081.3 1526.2,1076.9C1528.6,1072.5 1530.9,1068.0 1533.1,1063.5C1535.2,1059.1 1537.3,1054.7 1539.1,1050.3C1540.8,1045.9 1542.5,1041.6 1543.9,1037.3C1545.2,1033.2 1546.3,1029.0 1547.1,1025.0C1547.9,1021.1 1548.0,1017.3 1548.5,1013.4" stroke="#9a32cd" stroke-dasharray="10,10"/>
<path d="M1094.0,1265.0C1110.3,1266.3 1124.8,1268.0 1143.0,1269.0C1165.8,1270.3 1194.5,1271.4 1220.2,1271.6C1245.9,1271.8 1271.7,1271.8 1297.4,1270.3C1323.2,1268.8 1353.4,1266.7 1374.6,1262.5C1389.8,1259.5 1401.1,1256.2 1413.2,1251.0C1425.1,1245.9 1436.2,1240.7 1446.7,1231.7C1459.4,1220.8 1474.0,1199.5 1481.8,1187.7C1486.6,1180.5 1488.4,1175.4 1491.7,1169.2C1495.1,1163.0 1498.5,1156.7 1501.9,1150.5C1505.2,1144.2 1508.6,1137.9 1511.8,1131.5C1515.0,1125.1 1518.2,1118.8 1521.2,1112.3C1524.2,1105.9 1527.2,1099.4 1529.8,1092.9C1532.5,1086.4 1535.0,1079.9 1537.3,1073.3C1539.5,1066.7 1541.5,1060.1 1543.2,1053.5C1544.8,1046.9 1546.2,1040.2 1547.2,1033.5C1548.1,1026.9 1548.4,1020.1 1549.0,1013.4" stroke="#9a32cd" stroke-dasharray="10,10"/>
<path d="M1103.8,1316.1C1125.4,1317.6 1146.1,1319.5 1168.7,1320.5C1193.3,1321.5 1220.2,1322.0 1245.9,1321.8C1271.6,1321.6 1298.5,1321.1 1323.0,1319.2C1345.5,1317.5 1368.9,1315.7 1387.5,1311.5C1402.2,1308.2 1414.4,1305.1 1426.0,1298.6C1437.6,1292.2 1447.5,1283.6 1457.0,1272.8C1468.4,1259.9 1480.6,1237.9 1487.7,1224.6C1492.4,1215.9 1494.4,1209.6 1497.7,1202.0C1501.0,1194.4 1504.3,1186.8 1507.5,1179.2C1510.6,1171.5 1513.7,1163.9 1516.7,1156.2C1519.7,1148.5 1522.5,1140.7 1525.2,1132.9C1527.9,1125.2 1530.5,1117.4 1532.8,1109.5C1535.1,1101.7 1537.3,1093.8 1539.2,1085.8C1541.1,1077.9 1542.9,1069.9 1544.3,1061.9C1545.7,1053.9 1546.9,1045.9 1547.8,1037.8C1548.7,1029.7 1548.9,1021.5 1549.5,1013.4" stroke="#9a32cd" stroke-dasharray="10,10"/>
<path d="M1076.8,1361.1C1098.9,1363.0 1118.5,1365.1 1143.0,1366.8C1173.5,1368.9 1212.8,1371.9 1246.0,1372.0C1277.0,1372.1 1307.3,1371.5 1336.0,1368.0C1362.8,1364.7 1393.5,1361.5 1413.2,1352.6C1427.6,1346.1 1436.9,1338.3 1446.7,1326.9C1458.5,1313.1 1468.8,1288.3 1476.1,1273.1C1481.2,1262.4 1483.8,1254.4 1487.6,1245.0C1491.5,1235.6 1495.3,1226.2 1499.1,1216.8C1502.8,1207.4 1506.5,1198.0 1510.0,1188.5C1513.5,1179.0 1517.0,1169.5 1520.2,1160.0C1523.5,1150.5 1526.6,1140.9 1529.4,1131.3C1532.3,1121.7 1535.0,1112.0 1537.3,1102.3C1539.7,1092.6 1541.8,1082.8 1543.6,1073.0C1545.3,1063.2 1546.8,1053.3 1547.9,1043.4C1549.0,1033.5 1549.3,1023.4 1550.0,1013.4" stroke="#9a32cd" stroke-dasharray="10,10"/>
<path d="M1100.5,1411.5C1123.2,1413.4 1145.2,1415.5 1168.7,1417.1C1193.6,1418.8 1220.3,1420.9 1246.0,1421.3C1271.7,1421.7 1298.5,1421.3 1323.0,1419.7C1345.5,1418.3 1369.0,1417.1 1387.5,1412.8C1402.2,1409.4 1416.5,1404.7 1426.0,1398.6C1432.9,1394.2 1436.1,1390.3 1441.5,1383.2C1450.3,1371.6 1462.4,1348.2 1469.5,1332.7C1475.1,1320.2 1477.9,1309.4 1482.1,1297.8C1486.3,1286.2 1490.5,1274.6 1494.6,1263.0C1498.6,1251.4 1502.7,1239.8 1506.5,1228.1C1510.4,1216.5 1514.2,1204.8 1517.7,1193.1C1521.3,1181.5 1524.7,1169.7 1527.8,1158.0C1530.9,1146.2 1533.8,1134.4 1536.4,1122.5C1539.0,1110.6 1541.3,1098.6 1543.3,1086.6C1545.2,1074.6 1546.9,1062.5 1548.1,1050.3C1549.3,1038.1 1549.7,1025.7 1550.5,1013.4" stroke="#9a32cd" stroke-dasharray="10,10"/>
<path d="M1085.0,1459.9C1112.9,1462.6 1141.3,1466.1 1168.7,1468.1C1195.0,1470.0 1220.3,1471.7 1246.0,1472.0C1271.7,1472.3 1298.5,1472.1 1323.0,1470.2C1345.5,1468.5 1370.1,1465.7 1387.5,1461.7C1399.8,1458.9 1408.9,1458.9 1418.4,1451.4C1432.2,1440.4 1446.1,1410.9 1454.7,1392.5C1461.6,1377.8 1464.0,1364.6 1468.7,1350.7C1473.4,1336.9 1478.3,1323.0 1483.0,1309.2C1487.7,1295.4 1492.5,1281.6 1497.1,1267.8C1501.6,1254.0 1506.2,1240.2 1510.5,1226.3C1514.8,1212.5 1518.9,1198.6 1522.7,1184.7C1526.6,1170.7 1530.2,1156.7 1533.4,1142.7C1536.6,1128.6 1539.5,1114.5 1542.0,1100.2C1544.4,1086.0 1546.5,1071.6 1548.0,1057.2C1549.5,1042.7 1550.0,1028.0 1551.0,1013.4" stroke="#9a32cd" stroke-dasharray="10,10"/>
<path d="M1069.6,1506.7C1094.1,1509.3 1116.4,1512.3 1143.0,1514.4C1174.4,1516.8 1212.8,1519.2 1246.0,1519.6C1277.0,1520.0 1309.2,1519.7 1336.0,1517.5C1357.8,1515.7 1379.7,1513.4 1395.2,1509.3C1405.8,1506.5 1413.3,1506.2 1421.0,1499.0C1433.0,1487.9 1442.7,1457.8 1450.3,1438.6C1456.8,1422.2 1460.0,1407.3 1465.0,1391.6C1469.9,1376.1 1474.9,1360.5 1479.9,1345.0C1484.8,1329.5 1489.8,1314.0 1494.6,1298.5C1499.4,1283.0 1504.1,1267.6 1508.6,1252.0C1513.0,1236.5 1517.4,1221.0 1521.4,1205.3C1525.4,1189.7 1529.1,1174.1 1532.5,1158.3C1535.8,1142.6 1538.9,1126.7 1541.5,1110.8C1544.0,1094.8 1546.2,1078.7 1547.8,1062.5C1549.4,1046.2 1549.9,1029.8 1551.0,1013.4" stroke="#9a32cd" stroke-dasharray="10,10"/>
<path d="M1076.0,1549.2C1106.9,1550.3 1137.0,1551.5 1168.7,1552.5C1202.1,1553.6 1239.8,1555.4 1271.7,1555.6C1299.3,1555.8 1325.2,1555.6 1348.9,1554.3C1369.2,1553.2 1390.4,1551.7 1405.5,1549.2C1415.8,1547.5 1423.7,1549.0 1431.3,1542.8C1443.4,1532.9 1453.0,1502.0 1460.2,1482.3C1466.7,1464.6 1469.4,1447.6 1474.0,1430.3C1478.6,1413.0 1483.2,1395.9 1487.7,1378.7C1492.2,1361.6 1496.7,1344.5 1501.0,1327.4C1505.2,1310.4 1509.4,1293.3 1513.4,1276.2C1517.4,1259.1 1521.2,1242.0 1524.7,1224.8C1528.2,1207.6 1531.5,1190.4 1534.4,1173.1C1537.4,1155.7 1540.1,1138.3 1542.3,1120.7C1544.6,1103.1 1546.5,1085.4 1547.9,1067.6C1549.4,1049.6 1550.0,1031.5 1551.0,1013.4" stroke="#9a32cd" stroke-dasharray="10,10"/>
<path d="M1126.2,1605.0C1148.9,1606.1 1170.9,1607.6 1194.4,1608.4C1219.4,1609.2 1245.9,1610.1 1271.7,1609.7C1297.4,1609.3 1325.9,1608.7 1348.9,1605.8C1367.9,1603.4 1386.4,1600.0 1400.4,1595.5C1410.6,1592.2 1418.5,1591.8 1426.0,1584.0C1438.3,1571.3 1447.3,1536.5 1454.6,1514.3C1460.9,1495.0 1463.8,1477.1 1468.4,1458.5C1473.1,1440.1 1477.9,1421.7 1482.5,1403.4C1487.2,1385.1 1491.9,1366.8 1496.5,1348.6C1501.0,1330.3 1505.5,1312.1 1509.8,1293.9C1514.0,1275.6 1518.2,1257.4 1522.0,1239.1C1525.8,1220.7 1529.5,1202.3 1532.7,1183.8C1535.9,1165.3 1538.9,1146.7 1541.4,1128.0C1543.9,1109.2 1546.0,1090.3 1547.6,1071.3C1549.3,1052.1 1549.9,1032.7 1551.0,1013.4" stroke="#9a32cd" stroke-dasharray="10,10"/>
<path d="M1073.0,1650.9C1096.3,1653.5 1117.4,1656.7 1143.0,1658.6C1174.0,1660.9 1212.8,1662.4 1246.0,1662.5C1277.0,1662.6 1308.6,1663.0 1336.0,1659.9C1359.4,1657.2 1384.0,1652.3 1400.4,1647.0C1411.1,1643.6 1418.6,1643.4 1426.0,1635.4C1438.7,1621.7 1447.3,1582.6 1454.5,1558.2C1460.8,1536.9 1463.6,1517.5 1468.3,1497.3C1472.9,1477.2 1477.6,1457.3 1482.3,1437.3C1487.0,1417.4 1491.7,1397.5 1496.2,1377.7C1500.7,1357.8 1505.2,1338.1 1509.5,1318.2C1513.7,1298.4 1517.9,1278.6 1521.7,1258.6C1525.5,1238.7 1529.2,1218.7 1532.4,1198.7C1535.7,1178.5 1538.7,1158.3 1541.2,1138.0C1543.7,1117.5 1545.9,1097.0 1547.5,1076.3C1549.2,1055.5 1549.8,1034.4 1551.0,1013.4" stroke="#9a32cd" stroke-dasharray="10,10"/>
<path d="M1073.5,1728.9C1105.2,1729.1 1137.4,1730.2 1168.7,1729.6C1199.2,1729.0 1228.8,1727.7 1258.8,1725.5C1288.9,1723.3 1323.2,1721.3 1348.9,1716.5C1368.6,1712.8 1386.5,1708.3 1400.4,1702.3C1410.8,1697.8 1418.6,1696.1 1426.0,1686.9C1438.7,1671.2 1447.1,1630.4 1454.3,1604.2C1460.6,1581.1 1463.3,1560.1 1467.9,1538.1C1472.5,1516.3 1477.2,1494.6 1481.8,1472.9C1486.5,1451.3 1491.2,1429.8 1495.7,1408.2C1500.2,1386.7 1504.7,1365.3 1509.0,1343.8C1513.2,1322.3 1517.4,1300.8 1521.2,1279.2C1525.1,1257.6 1528.7,1236.0 1532.0,1214.2C1535.3,1192.4 1538.3,1170.5 1540.9,1148.5C1543.4,1126.3 1545.7,1104.1 1547.4,1081.7C1549.1,1059.0 1549.8,1036.2 1551.0,1013.4" stroke="#9a32cd" stroke-dasharray="10,10"/>
<path d="M1142.1,1785.2C1158.5,1785.8 1173.1,1786.7 1191.2,1787.0C1213.7,1787.4 1242.8,1788.0 1266.9,1787.0C1288.9,1786.1 1311.6,1784.2 1329.9,1781.9C1344.1,1780.1 1355.2,1778.7 1367.7,1775.6C1380.4,1772.4 1394.3,1767.4 1405.5,1763.0C1414.8,1759.4 1424.2,1756.8 1430.7,1751.7C1436.3,1747.3 1439.4,1743.7 1443.3,1735.3C1451.9,1717.0 1458.9,1668.2 1464.7,1638.5C1469.7,1613.3 1472.7,1591.6 1476.7,1568.4C1480.8,1545.2 1485.0,1522.2 1489.0,1499.3C1493.1,1476.4 1497.3,1453.6 1501.3,1430.8C1505.3,1408.1 1509.2,1385.4 1513.0,1362.7C1516.8,1339.9 1520.5,1317.2 1523.9,1294.4C1527.3,1271.6 1530.6,1248.7 1533.5,1225.8C1536.5,1202.7 1539.2,1179.6 1541.5,1156.3C1543.8,1132.8 1545.9,1109.3 1547.5,1085.6C1549.1,1061.7 1549.8,1037.5 1551.0,1013.4" stroke="#9a32cd" stroke-dasharray="10,10"/>
<path d="M1065.2,1831.6C1082.0,1833.1 1095.9,1834.7 1115.6,1836.1C1143.4,1838.0 1182.9,1840.6 1216.5,1841.2C1250.1,1841.8 1287.7,1842.1 1317.3,1839.9C1340.8,1838.1 1362.8,1835.0 1380.3,1831.1C1393.1,1828.2 1403.8,1825.7 1413.1,1821.0C1421.0,1817.0 1428.0,1811.4 1433.2,1805.9C1437.6,1801.2 1440.2,1796.6 1443.3,1790.7C1447.1,1783.5 1450.1,1774.1 1453.4,1765.5C1456.8,1756.5 1460.4,1750.0 1463.5,1737.8C1469.1,1715.4 1473.4,1670.4 1477.7,1640.6C1481.4,1615.2 1484.2,1593.5 1487.6,1570.1C1491.0,1546.8 1494.5,1523.7 1497.9,1500.7C1501.3,1477.7 1504.8,1454.8 1508.2,1432.0C1511.6,1409.2 1515.0,1386.4 1518.2,1363.6C1521.4,1340.8 1524.6,1318.1 1527.5,1295.2C1530.5,1272.3 1533.3,1249.4 1535.8,1226.4C1538.4,1203.2 1540.8,1180.1 1542.8,1156.7C1544.9,1133.2 1546.7,1109.6 1548.2,1085.9C1549.6,1061.8 1550.4,1037.6 1551.5,1013.4" stroke="#9a32cd" stroke-dasharray="10,10"/>
<path d="M1096.7,1884.0C1111.4,1884.8 1123.1,1885.3 1140.8,1886.5C1167.6,1888.3 1210.5,1893.2 1241.7,1894.1C1268.7,1894.9 1293.3,1894.4 1317.3,1892.8C1339.3,1891.3 1362.2,1889.6 1380.3,1885.3C1394.7,1881.8 1408.2,1877.2 1418.1,1871.4C1425.6,1867.0 1431.2,1862.5 1435.8,1856.3C1440.5,1849.9 1442.7,1842.0 1445.8,1833.6C1449.5,1823.8 1453.0,1812.2 1455.9,1800.8C1459.0,1788.7 1461.0,1779.0 1463.5,1763.0C1467.8,1735.8 1472.6,1684.8 1476.6,1651.8C1479.9,1625.2 1482.7,1603.7 1485.9,1579.9C1489.1,1556.2 1492.5,1532.7 1495.9,1509.2C1499.3,1485.8 1502.8,1462.6 1506.3,1439.3C1509.7,1416.1 1513.2,1392.9 1516.5,1369.7C1519.8,1346.5 1523.1,1323.4 1526.2,1300.1C1529.3,1276.8 1532.3,1253.5 1535.0,1230.1C1537.7,1206.6 1540.2,1183.0 1542.4,1159.3C1544.6,1135.3 1546.5,1111.3 1548.0,1087.1C1549.6,1062.7 1550.3,1038.0 1551.5,1013.4" stroke="#9a32cd" stroke-dasharray="10,10"/>
<path d="M1076.6,1928.1C1098.0,1930.2 1117.0,1932.4 1140.8,1934.4C1170.6,1936.9 1210.5,1940.6 1241.7,1941.5C1268.7,1942.3 1293.3,1942.5 1317.3,1940.7C1339.3,1939.1 1362.1,1936.2 1380.3,1931.9C1394.7,1928.5 1408.7,1924.5 1418.1,1919.3C1424.7,1915.6 1428.9,1912.2 1433.2,1906.7C1438.4,1900.1 1442.1,1890.4 1445.8,1881.5C1449.7,1872.0 1453.0,1862.0 1455.9,1851.2C1459.0,1839.4 1461.1,1826.9 1463.5,1813.4C1466.2,1797.8 1468.4,1778.6 1471.1,1763.0C1473.5,1749.5 1476.0,1740.7 1478.6,1725.2C1482.7,1700.6 1487.6,1658.6 1491.2,1629.2C1494.3,1604.2 1496.5,1582.8 1499.3,1559.8C1502.0,1537.0 1504.8,1514.3 1507.6,1491.6C1510.4,1469.1 1513.2,1446.7 1516.0,1424.2C1518.7,1401.8 1521.5,1379.5 1524.1,1357.1C1526.7,1334.7 1529.3,1312.4 1531.7,1290.0C1534.1,1267.5 1536.5,1245.0 1538.6,1222.4C1540.7,1199.7 1542.7,1177.0 1544.4,1154.1C1546.2,1131.0 1547.7,1107.9 1549.0,1084.5C1550.3,1061.0 1551.0,1037.1 1552.0,1013.4" stroke="#9a32cd" stroke-dasharray="10,10"/>
<path d="M913.2,1717.0C908.8,1716.5 904.5,1716.3 900.0,1715.5C895.1,1714.7 889.8,1713.5 885.0,1712.0C880.5,1710.6 874.6,1708.9 872.0,1707.0C870.5,1705.9 869.2,1704.8 869.2,1703.4C869.2,1701.6 871.4,1698.7 874.0,1697.0C878.3,1694.3 887.1,1693.6 895.0,1692.5C905.1,1691.1 916.7,1690.8 930.0,1690.3C947.7,1689.6 972.1,1689.4 992.0,1689.5C1010.4,1689.6 1028.1,1690.2 1045.0,1690.8C1060.6,1691.4 1077.7,1691.5 1090.0,1693.0C1098.7,1694.0 1107.5,1694.5 1112.0,1697.2C1114.8,1698.8 1117.7,1701.7 1117.2,1703.6C1116.4,1706.4 1106.1,1708.1 1100.0,1710.0C1093.3,1712.0 1083.0,1714.0 1078.6,1715.2C1076.6,1715.7 1075.8,1716.1 1074.4,1716.5" stroke="#9a32cd" stroke-dasharray="10,10"/>
<path d="M1637.0,252.3C1642.0,253.7 1646.3,255.5 1652.0,256.5C1659.3,257.7 1667.3,257.5 1677.2,258.1C1691.3,259.0 1709.8,260.7 1728.7,261.2C1751.9,261.8 1784.7,259.0 1806.0,260.7C1821.1,261.9 1832.0,262.7 1844.5,267.1C1857.8,271.8 1871.8,281.3 1883.1,289.0C1892.9,295.6 1900.6,301.8 1908.9,309.6C1917.8,318.0 1926.4,327.4 1934.6,337.9C1943.6,349.5 1952.2,362.6 1960.4,376.5C1969.4,391.6 1978.2,409.2 1986.1,425.4C1993.6,440.9 2000.5,456.9 2006.7,471.7C2012.4,485.1 2017.8,498.8 2022.1,510.4C2025.6,519.8 2028.1,527.5 2031.1,536.1" stroke="#9a32cd" stroke-dasharray="10,10"/>
<path d="M1648.9,235.2C1653.3,235.1 1655.8,235.1 1662.0,234.8C1677.7,234.1 1723.8,231.1 1744.5,230.2C1757.0,229.7 1761.6,229.7 1774.5,229.3C1797.7,228.6 1848.9,227.1 1872.1,226.4C1885.0,226.0 1889.9,225.8 1902.1,225.5C1921.0,225.1 1955.7,224.6 1974.6,224.5C1986.8,224.4 1989.1,224.5 2004.6,224.5C2058.9,224.5 2315.7,224.6 2370.0,224.6C2385.5,224.6 2390.0,224.6 2400.0,224.6C2410.0,224.6 2414.4,224.6 2430.0,224.6C2484.9,224.6 2748.1,224.6 2803.0,224.6C2818.6,224.6 2822.9,224.0 2833.0,224.6C2843.2,225.3 2853.3,226.2 2863.9,228.6C2875.8,231.3 2889.0,235.1 2901.0,241.0C2913.8,247.3 2926.9,257.0 2938.1,265.7C2948.4,273.6 2956.7,281.3 2966.0,290.5C2976.3,300.7 2986.9,313.0 2996.8,324.5C3006.5,335.7 3016.0,346.7 3024.7,358.5C3033.5,370.4 3042.8,384.3 3049.4,395.6C3054.6,404.5 3059.2,413.3 3061.8,420.4C3063.6,425.3 3063.9,429.0 3064.9,433.3" stroke="#9a32cd" stroke-dasharray="10,10"/>
<path d="M1179.5,115.3C1222.1,115.6 1279.6,116.2 1307.4,116.3C1320.9,116.4 1322.3,116.3 1337.4,116.4C1383.7,116.5 1573.7,116.9 1620.0,117.0C1635.1,117.1 1640.0,117.1 1650.0,117.1C1660.0,117.1 1664.9,117.1 1680.0,117.1C1727.0,117.2 1923.0,117.3 1970.0,117.4C1985.1,117.4 1990.0,117.4 2000.0,117.4C2010.0,117.4 2014.0,117.4 2030.0,117.4C2093.4,117.4 2439.6,117.3 2503.0,117.3C2519.0,117.3 2523.2,116.5 2533.0,117.3C2542.5,118.1 2550.7,119.8 2560.8,122.0C2573.0,124.7 2588.1,127.9 2601.0,132.8C2613.9,137.7 2626.7,144.0 2638.1,151.3C2649.3,158.5 2659.1,166.4 2669.0,176.1C2679.9,186.8 2690.2,201.8 2700.0,213.2C2708.6,223.2 2716.4,230.9 2724.7,241.0C2733.9,252.3 2743.5,266.0 2752.5,278.1C2761.0,289.7 2769.9,300.9 2777.3,312.1C2784.2,322.5 2790.7,331.9 2795.8,343.0C2801.1,354.6 2804.4,368.3 2808.2,380.2C2811.6,391.0 2814.5,401.7 2817.5,411.1C2820.1,419.2 2822.6,426.0 2825.2,433.4" stroke="#9a32cd" stroke-dasharray="10,10"/>
<path d="M284.7,368.6C333.1,365.0 399.8,360.3 430.0,357.8C443.7,356.7 447.1,356.2 459.9,355.1C482.6,353.0 532.0,348.4 554.7,346.3C567.5,345.2 571.6,344.7 584.6,343.6C608.6,341.6 663.5,337.7 687.6,336.0C700.6,335.1 704.6,334.9 717.5,334.0C741.5,332.3 796.1,328.7 820.1,327.0C833.0,326.1 840.0,325.6 850.0,325.0C860.0,324.4 866.3,324.0 879.9,323.2C909.5,321.3 990.5,316.4 1020.1,314.5C1033.7,313.7 1040.0,313.1 1050.0,312.7C1060.0,312.3 1066.3,312.2 1080.0,311.8C1109.5,311.0 1190.5,308.7 1220.0,307.9C1233.7,307.5 1240.0,307.2 1250.0,307.0C1260.0,306.8 1264.6,306.9 1280.0,306.8C1331.9,306.5 1568.1,305.0 1620.0,304.7C1635.4,304.6 1640.0,304.5 1650.0,304.5C1660.0,304.5 1664.9,304.5 1680.0,304.5C1727.0,304.5 1923.0,304.3 1970.0,304.3C1985.1,304.3 1990.0,304.3 2000.0,304.3C2010.0,304.3 2014.1,304.3 2030.0,304.3C2091.4,304.3 2416.8,304.4 2478.2,304.4C2494.1,304.4 2498.1,304.6 2508.2,304.4C2518.5,304.2 2527.9,303.9 2539.2,302.9C2553.1,301.6 2570.1,298.9 2585.5,296.7C2601.0,294.5 2618.1,291.3 2632.0,289.9C2643.3,288.7 2652.6,287.9 2662.9,288.0C2673.2,288.1 2683.6,288.6 2693.8,290.5C2704.2,292.5 2714.6,295.8 2724.7,299.8C2735.2,304.0 2746.1,309.3 2755.6,315.2C2764.6,320.8 2773.2,326.6 2780.4,333.8C2787.6,341.0 2793.8,349.4 2798.9,358.5C2804.2,367.9 2807.7,379.0 2811.3,389.4C2814.9,399.6 2818.6,412.2 2820.6,420.4C2821.9,425.6 2822.2,429.1 2823.0,433.4" stroke="#9a32cd" stroke-dasharray="10,10"/>
<path d="M1552.7,988.1C1553.3,984.0 1553.8,980.0 1554.4,975.8C1555.0,971.4 1555.8,967.2 1556.3,962.4C1556.9,956.7 1556.8,951.2 1557.8,943.9C1559.2,933.2 1562.7,915.3 1565.0,904.7C1566.6,897.3 1567.6,893.4 1569.5,886.1C1572.2,875.5 1575.9,861.3 1579.8,847.5C1584.3,831.5 1589.6,813.1 1595.2,796.0C1600.8,778.8 1606.2,760.7 1613.3,744.5C1620.0,729.1 1628.3,714.2 1636.4,700.8C1643.8,688.7 1650.8,678.6 1659.6,667.3C1669.4,654.6 1681.3,641.7 1693.0,628.7C1705.3,615.1 1717.7,600.3 1731.7,587.5C1746.0,574.5 1764.0,561.6 1778.0,551.5C1789.2,543.4 1796.7,538.1 1808.9,530.9C1825.2,521.2 1848.7,509.1 1868.0,500.0C1885.7,491.6 1903.7,484.8 1920.0,478.0C1934.3,472.1 1944.8,467.8 1960.4,461.5C1982.0,452.8 2011.7,439.7 2037.6,430.6C2063.1,421.7 2088.8,413.6 2114.8,407.4C2140.7,401.2 2167.1,398.0 2193.3,393.3" stroke="#9a32cd" stroke-dasharray="10,10"/>
<path d="M1560.4,988.1C1562.6,984.7 1564.6,981.7 1567.0,978.0C1569.9,973.6 1573.1,968.4 1576.4,963.4C1580.0,958.0 1583.4,953.1 1587.7,946.9C1593.3,938.7 1600.5,927.9 1607.3,918.6C1614.1,909.3 1620.5,901.6 1628.7,891.2C1639.7,877.2 1654.5,856.7 1667.3,842.3C1678.5,829.7 1688.8,820.5 1700.8,808.9C1714.3,795.8 1729.3,782.0 1744.5,767.7C1761.0,752.1 1778.6,734.4 1796.0,718.8C1813.0,703.6 1830.2,689.3 1847.5,675.0C1864.6,660.9 1881.7,647.2 1899.0,633.8C1916.1,620.6 1932.9,607.3 1950.5,595.2C1968.0,583.2 1986.5,572.7 2004.5,561.5" stroke="#9a32cd" stroke-dasharray="10,10"/>
<path d="M1956.3,855.6C1938.6,855.6 1922.5,855.4 1903.3,855.6C1880.3,855.8 1850.3,855.6 1827.7,857.1C1809.2,858.3 1794.0,859.9 1777.3,862.7C1760.4,865.5 1743.6,869.2 1726.9,874.0C1710.0,878.9 1691.8,884.7 1676.5,891.7C1662.7,898.0 1650.7,906.0 1638.6,913.1C1627.2,919.8 1614.6,926.7 1605.9,933.3C1599.4,938.3 1595.0,942.6 1590.0,948.0C1584.9,953.5 1579.3,959.4 1575.6,966.0C1571.9,972.7 1570.5,980.7 1568.0,988.0" stroke="#9a32cd" stroke-dasharray="10,10"/>
<path d="M1584.6,988.1C1590.0,985.8 1594.2,983.7 1600.8,981.2C1610.7,977.4 1624.3,973.0 1638.6,968.6C1656.9,963.0 1679.7,956.6 1701.7,950.9C1725.7,944.7 1752.1,939.2 1777.3,933.3C1802.5,927.4 1827.8,922.3 1852.9,915.6C1878.2,908.8 1904.4,899.5 1928.5,892.9C1950.4,886.9 1970.6,882.4 1991.6,877.2" stroke="#9a32cd" stroke-dasharray="10,10"/>
<path d="M1613.4,990.5C1634.4,988.7 1654.5,986.7 1676.5,985.0C1700.6,983.1 1726.9,981.4 1752.1,979.9C1777.3,978.4 1802.5,976.8 1827.7,976.1C1852.9,975.4 1878.1,975.6 1903.3,975.4" stroke="#9a32cd" stroke-dasharray="10,10"/>
<path d="M1963.8,988.7C1952.0,990.4 1942.5,992.1 1928.5,993.8C1908.1,996.3 1878.1,999.6 1852.9,1001.3C1827.7,1003.0 1802.5,1003.5 1777.3,1003.9C1752.1,1004.3 1726.9,1004.1 1701.7,1003.9C1676.5,1003.7 1640.6,1002.7 1626.0,1002.6C1620.0,1002.5 1617.6,1002.6 1613.4,1002.6" stroke="#9a32cd" stroke-dasharray="10,10"/>
<path d="M1613.4,1010.8C1626.0,1012.3 1636.4,1013.5 1651.2,1015.2C1672.1,1017.6 1701.7,1021.5 1726.9,1024.0C1752.1,1026.5 1777.3,1028.2 1802.5,1030.3C1827.7,1032.4 1852.9,1034.7 1878.1,1036.6C1903.3,1038.5 1928.5,1040.4 1953.7,1041.7C1978.9,1043.0 2004.6,1043.7 2029.4,1044.2C2053.3,1044.7 2081.4,1044.6 2100.0,1044.7C2112.1,1044.7 2113.5,1044.7 2130.0,1044.7C2208.0,1044.7 2722.0,1044.7 2800.0,1044.7C2816.5,1044.7 2822.9,1046.1 2830.0,1044.7C2834.2,1043.9 2835.6,1042.8 2839.6,1040.8C2847.3,1037.0 2861.6,1029.8 2871.7,1021.5C2883.2,1012.1 2893.8,999.8 2903.9,986.1C2915.5,970.4 2926.1,951.8 2936.1,931.4C2947.8,907.6 2958.5,877.4 2968.3,851.0C2977.7,825.9 2986.1,802.3 2994.0,777.0C3002.2,750.9 3009.1,724.6 3016.5,696.5C3024.6,665.8 3034.0,629.7 3040.7,600.0C3046.4,574.9 3050.6,552.5 3055.0,530.0C3059.0,509.3 3062.7,481.8 3066.0,470.0C3067.4,464.9 3068.7,462.9 3070.0,459.3" stroke="#9a32cd" stroke-dasharray="10,10"/>
<path d="M267.2,1967.0C277.2,1967.0 282.2,1967.0 297.2,1967.0C342.5,1967.0 524.7,1967.1 570.0,1967.1C585.0,1967.1 590.0,1967.1 600.0,1967.1C610.0,1967.1 613.8,1967.1 630.0,1967.1C698.7,1967.1 1101.3,1967.1 1170.0,1967.1C1186.2,1967.1 1190.0,1967.1 1200.0,1967.1C1210.0,1967.1 1212.7,1967.1 1230.0,1967.1C1340.8,1967.1 2349.2,1967.1 2460.0,1967.1C2477.3,1967.1 2483.0,1968.0 2490.0,1967.1C2493.8,1966.6 2494.9,1966.8 2498.7,1964.9C2508.6,1960.1 2534.8,1944.2 2547.0,1927.6C2560.6,1909.2 2564.0,1882.5 2573.4,1857.2C2584.4,1827.5 2597.8,1794.0 2608.6,1760.5C2619.9,1725.3 2630.6,1687.5 2639.4,1650.7C2648.1,1614.2 2653.7,1575.3 2661.4,1540.8C2668.4,1509.8 2677.0,1481.7 2683.3,1452.9C2689.3,1425.4 2695.0,1392.0 2698.7,1371.6C2700.9,1359.3 2701.3,1356.4 2703.7,1342.0C2710.3,1303.0 2733.7,1164.1 2740.3,1125.1C2742.7,1110.7 2743.3,1107.1 2745.3,1095.5C2748.2,1078.8 2752.4,1057.1 2755.9,1034.4C2760.3,1005.9 2764.7,971.3 2768.8,937.8C2773.3,901.7 2777.2,861.3 2781.7,825.2C2785.8,791.8 2790.0,762.5 2794.5,728.7C2799.5,691.1 2806.2,646.6 2810.6,609.7C2814.4,577.7 2817.3,547.0 2820.0,520.0C2822.3,497.8 2824.0,479.5 2826.0,459.3" stroke="#9a32cd" stroke-dasharray="10,10"/>
<path d="M267.2,1973.6C310.0,1975.8 352.5,1976.9 395.5,1980.2C439.2,1983.5 483.4,1989.0 527.3,1993.4C571.3,1997.8 615.2,2002.9 659.2,2006.6C703.1,2010.3 747.0,2013.4 791.0,2015.4C834.9,2017.4 879.6,2017.8 922.8,2018.5C964.5,2019.2 1018.8,2019.4 1045.9,2019.5C1059.3,2019.6 1059.0,2019.5 1075.9,2019.5C1168.2,2019.5 1877.7,2019.4 1970.0,2019.4C1986.9,2019.4 1990.0,2019.4 2000.0,2019.4C2010.0,2019.4 2013.3,2019.4 2030.0,2019.4C2114.7,2019.4 2715.9,2019.4 2800.6,2019.4C2817.3,2019.4 2824.6,2022.4 2830.6,2019.4C2834.2,2017.6 2833.7,2014.4 2837.1,2011.0C2844.5,2003.6 2867.1,1993.0 2876.7,1980.3C2886.0,1968.0 2887.8,1953.6 2894.3,1936.4C2903.4,1912.2 2916.1,1881.0 2925.0,1848.4C2935.7,1809.2 2943.5,1756.1 2951.4,1716.6C2957.9,1684.3 2963.6,1661.1 2969.0,1628.7C2975.6,1589.3 2981.1,1540.4 2986.6,1496.8C2992.0,1454.0 2998.9,1397.1 3002.0,1369.4C3003.5,1356.0 3003.6,1354.1 3005.2,1339.6C3009.3,1300.8 3023.7,1164.1 3027.8,1125.3C3029.4,1110.8 3029.8,1108.6 3031.0,1095.5C3033.2,1070.5 3036.5,1021.4 3039.0,986.1C3041.3,952.9 3043.1,921.8 3045.5,889.6C3047.9,857.4 3050.8,825.2 3053.5,793.0C3056.2,760.8 3059.7,728.7 3061.6,696.5C3063.5,664.4 3063.7,630.7 3064.8,600.0C3065.8,572.1 3066.9,544.8 3068.0,520.0C3069.0,498.4 3070.0,479.5 3071.0,459.3" stroke="#9a32cd" stroke-dasharray="10,10"/>
<path d="M2872.4,445.3L3016.2,445.3" stroke="#9a32cd" stroke-dasharray="10,10"/>
<path d="M2595.4,352.3C2607.6,352.8 2619.0,352.8 2631.9,353.9C2646.5,355.2 2662.9,357.0 2678.3,360.1C2693.9,363.2 2709.9,367.6 2724.7,372.4C2738.7,376.9 2753.2,381.5 2765.0,387.9C2775.5,393.6 2784.3,400.8 2792.7,408.0C2800.7,414.8 2810.8,425.2 2814.4,429.6C2815.8,431.3 2816.1,432.1 2817.0,433.4" stroke="#9a32cd" stroke-dasharray="10,10"/>
<path d="M2373.4,392.0C2382.3,392.2 2388.5,391.9 2400.0,392.5C2421.6,393.6 2461.9,398.5 2492.8,400.3C2523.7,402.1 2554.6,401.9 2585.5,403.4C2616.4,404.9 2650.5,406.8 2678.3,409.5C2701.1,411.7 2721.1,413.9 2740.2,417.3C2756.9,420.3 2777.2,424.4 2786.6,428.1C2791.0,429.8 2792.7,431.6 2795.8,433.4" stroke="#9a32cd" stroke-dasharray="10,10"/>
<path d="M2550.4,497.9C2560.1,497.5 2569.7,497.4 2579.4,496.6C2589.1,495.8 2597.5,494.5 2608.4,493.0C2622.5,491.1 2640.7,488.3 2656.8,485.7C2672.9,483.1 2689.1,480.2 2705.2,477.2C2721.3,474.2 2738.9,470.8 2753.6,467.6C2765.9,464.9 2776.2,462.3 2787.5,459.6" stroke="#9a32cd" stroke-dasharray="10,10"/>
<path d="M2591.5,552.3C2593.1,551.9 2593.8,551.5 2596.3,551.1C2604.0,549.8 2628.6,548.6 2644.7,546.2C2660.9,543.8 2677.1,540.5 2693.1,536.5C2709.3,532.5 2726.8,528.0 2741.5,522.0C2754.8,516.5 2767.3,510.0 2777.8,502.7C2787.1,496.2 2795.1,487.9 2802.0,480.9C2807.7,475.1 2814.2,468.1 2816.5,464.0C2817.6,462.1 2817.5,460.9 2818.0,459.3" stroke="#9a32cd" stroke-dasharray="10,10"/>
<path d="M2084.0,561.0C2088.7,561.6 2092.6,561.9 2098.0,562.8C2105.7,564.1 2114.1,566.5 2125.6,568.5C2144.6,571.9 2176.1,576.2 2201.3,579.8C2226.5,583.4 2251.7,586.9 2276.9,589.9C2302.1,592.8 2327.3,595.8 2352.5,597.5C2377.7,599.2 2402.9,600.2 2428.1,600.0C2453.3,599.8 2480.4,597.6 2503.7,596.2C2523.9,595.0 2540.0,593.2 2560.0,592.2C2582.7,591.0 2609.5,590.6 2632.6,589.8C2653.7,589.0 2675.6,590.0 2693.1,587.4C2706.9,585.3 2717.7,583.0 2729.4,577.7C2742.0,572.0 2755.1,563.0 2765.7,553.5C2776.0,544.3 2784.8,533.7 2792.3,522.0C2800.2,509.7 2806.2,492.4 2811.7,480.9C2815.7,472.5 2818.6,466.5 2822.0,459.3" stroke="#9a32cd" stroke-dasharray="10,10"/>
<path d="M2084.0,543.4C2088.7,543.1 2092.6,543.1 2098.0,542.6C2105.7,541.9 2114.1,540.6 2125.6,539.2C2144.6,537.0 2176.1,533.6 2201.3,530.7C2226.5,527.8 2251.7,524.3 2276.9,521.8C2302.1,519.3 2328.4,517.3 2352.5,515.5C2374.5,513.8 2398.6,512.4 2415.5,511.2C2426.9,510.4 2434.6,509.9 2444.2,509.2" stroke="#9a32cd" stroke-dasharray="10,10"/>
<path d="M2444.5,511.7C2434.8,514.2 2423.9,516.7 2415.5,519.3C2408.9,521.4 2403.3,522.4 2397.9,525.6C2392.3,529.0 2387.3,535.4 2382.7,539.5C2379.0,542.8 2377.4,545.8 2372.7,548.3C2365.2,552.3 2352.7,554.4 2339.9,557.1C2322.4,560.8 2298.9,564.5 2276.9,566.7C2252.9,569.1 2226.5,570.1 2201.3,570.2C2176.1,570.3 2147.0,569.6 2125.6,567.2C2109.6,565.4 2097.9,562.1 2084.0,559.6" stroke="#9a32cd" stroke-dasharray="10,10"/>
<path d="M2444.2,493.5C2440.1,491.7 2435.7,490.1 2432.0,488.0C2428.7,486.1 2423.4,484.0 2423.0,481.5C2422.6,479.3 2425.1,475.9 2428.0,474.0C2432.9,470.7 2443.4,470.0 2453.3,468.9C2467.2,467.3 2486.9,467.2 2503.7,467.6C2520.5,468.0 2543.1,468.8 2554.2,471.4C2559.9,472.7 2565.6,473.9 2566.8,476.5C2567.7,478.5 2566.2,481.9 2564.3,484.0C2561.6,487.0 2554.4,488.2 2549.4,490.3" stroke="#9a32cd" stroke-dasharray="10,10"/>
</g>
<path d="M297.6,181.5L311.1,175.0L312.0,185.4Z" fill="#191970" stroke="#191970" stroke-width="1"/>
<path d="M297.6,184.0L311.7,179.1L311.5,189.5Z" fill="#191970" stroke="#191970" stroke-width="1"/>
<path d="M297.6,187.0L312.4,184.8L310.2,195.0Z" fill="#191970" stroke="#191970" stroke-width="1"/>
<path d="M3071.4,433.3L3063.6,420.6L3073.8,418.6Z" fill="#191970" stroke="#191970" stroke-width="1"/>
<path d="M259.3,1954.7L270.4,1944.7L274.2,1954.4Z" fill="#191970" stroke="#191970" stroke-width="1"/>
<path d="M336.2,33.5L350.7,30.0L349.5,40.3Z" fill="#9a32cd" stroke="#9a32cd" stroke-width="1"/>
<path d="M443.6,257.4L457.6,252.2L457.6,262.6Z" fill="#9a32cd" stroke="#9a32cd" stroke-width="1"/>
<path d="M284.7,376.3L298.8,371.3L298.6,381.7Z" fill="#9a32cd" stroke="#9a32cd" stroke-width="1"/>
<path d="M1180.0,126.5L1194.8,128.8L1189.7,137.9Z" fill="#9a32cd" stroke="#9a32cd" stroke-width="1"/>
<path d="M1200.6,255.0L1214.5,249.6L1214.7,260.0Z" fill="#9a32cd" stroke="#9a32cd" stroke-width="1"/>
<path d="M1164.0,128.2L1178.8,125.9L1176.7,136.1Z" fill="#9a32cd" stroke="#9a32cd" stroke-width="1"/>
<path d="M1065.4,203.3L1079.4,198.1L1079.4,208.5Z" fill="#9a32cd" stroke="#9a32cd" stroke-width="1"/>
<path d="M1045.7,399.0L1059.8,394.2L1059.6,404.5Z" fill="#9a32cd" stroke="#9a32cd" stroke-width="1"/>
<path d="M1069.6,351.1L1083.6,345.9L1083.6,356.3Z" fill="#9a32cd" stroke="#9a32cd" stroke-width="1"/>
<path d="M1045.7,408.0L1059.5,402.2L1059.9,412.6Z" fill="#9a32cd" stroke="#9a32cd" stroke-width="1"/>
<path d="M1096.6,444.5L1110.9,440.2L1110.2,450.6Z" fill="#9a32cd" stroke="#9a32cd" stroke-width="1"/>
<path d="M1077.8,491.4L1091.9,486.6L1091.6,497.0Z" fill="#9a32cd" stroke="#9a32cd" stroke-width="1"/>
<path d="M1092.8,539.8L1107.3,536.1L1106.2,546.5Z" fill="#9a32cd" stroke="#9a32cd" stroke-width="1"/>
<path d="M1076.0,586.9L1090.1,581.9L1089.9,592.3Z" fill="#9a32cd" stroke="#9a32cd" stroke-width="1"/>
<path d="M929.2,691.2L914.6,694.2L916.1,683.9Z" fill="#9a32cd" stroke="#9a32cd" stroke-width="1"/>
<path d="M1057.5,700.7L1071.8,696.2L1071.2,706.6Z" fill="#9a32cd" stroke="#9a32cd" stroke-width="1"/>
<path d="M1092.0,760.4L1106.7,757.7L1104.9,768.0Z" fill="#9a32cd" stroke="#9a32cd" stroke-width="1"/>
<path d="M243.4,393.3L256.4,400.7L248.4,407.4Z" fill="#9a32cd" stroke="#9a32cd" stroke-width="1"/>
<path d="M1092.8,856.9L1107.1,852.4L1106.5,862.8Z" fill="#9a32cd" stroke="#9a32cd" stroke-width="1"/>
<path d="M1153.8,907.9L1168.0,903.3L1167.6,913.7Z" fill="#9a32cd" stroke="#9a32cd" stroke-width="1"/>
<path d="M1087.6,956.0L1101.8,951.5L1101.3,961.9Z" fill="#9a32cd" stroke="#9a32cd" stroke-width="1"/>
<path d="M1081.7,1000.3L1095.7,995.1L1095.7,1005.5Z" fill="#9a32cd" stroke="#9a32cd" stroke-width="1"/>
<path d="M1076.6,1045.3L1090.3,1039.4L1090.8,1049.8Z" fill="#9a32cd" stroke="#9a32cd" stroke-width="1"/>
<path d="M281.5,1231.7L294.4,1224.2L296.2,1234.5Z" fill="#9a32cd" stroke="#9a32cd" stroke-width="1"/>
<path d="M247.3,1257.7L261.8,1261.3L255.9,1269.9Z" fill="#9a32cd" stroke="#9a32cd" stroke-width="1"/>
<path d="M1061.9,1170.4L1076.4,1166.8L1075.2,1177.1Z" fill="#9a32cd" stroke="#9a32cd" stroke-width="1"/>
<path d="M1063.7,1215.0L1078.0,1210.8L1077.3,1221.2Z" fill="#9a32cd" stroke="#9a32cd" stroke-width="1"/>
<path d="M1094.0,1265.0L1108.4,1261.0L1107.5,1271.3Z" fill="#9a32cd" stroke="#9a32cd" stroke-width="1"/>
<path d="M1103.8,1316.1L1118.1,1311.9L1117.4,1322.2Z" fill="#9a32cd" stroke="#9a32cd" stroke-width="1"/>
<path d="M1076.8,1361.1L1091.2,1357.1L1090.3,1367.5Z" fill="#9a32cd" stroke="#9a32cd" stroke-width="1"/>
<path d="M1100.5,1411.5L1114.9,1407.5L1114.0,1417.8Z" fill="#9a32cd" stroke="#9a32cd" stroke-width="1"/>
<path d="M1085.0,1459.9L1099.4,1456.1L1098.4,1466.4Z" fill="#9a32cd" stroke="#9a32cd" stroke-width="1"/>
<path d="M1069.6,1506.7L1084.1,1503.0L1083.0,1513.3Z" fill="#9a32cd" stroke="#9a32cd" stroke-width="1"/>
<path d="M1076.0,1549.2L1090.2,1544.5L1089.8,1554.9Z" fill="#9a32cd" stroke="#9a32cd" stroke-width="1"/>
<path d="M1126.2,1605.0L1140.4,1600.5L1139.9,1610.9Z" fill="#9a32cd" stroke="#9a32cd" stroke-width="1"/>
<path d="M1073.0,1650.9L1087.5,1647.3L1086.3,1657.6Z" fill="#9a32cd" stroke="#9a32cd" stroke-width="1"/>
<path d="M1073.5,1728.9L1087.5,1723.8L1087.5,1734.2Z" fill="#9a32cd" stroke="#9a32cd" stroke-width="1"/>
<path d="M1142.1,1785.2L1156.3,1780.5L1155.9,1790.9Z" fill="#9a32cd" stroke="#9a32cd" stroke-width="1"/>
<path d="M1065.2,1831.6L1079.6,1827.7L1078.7,1838.0Z" fill="#9a32cd" stroke="#9a32cd" stroke-width="1"/>
<path d="M1096.7,1884.0L1111.0,1879.6L1110.4,1890.0Z" fill="#9a32cd" stroke="#9a32cd" stroke-width="1"/>
<path d="M1076.6,1928.1L1091.0,1924.3L1090.0,1934.6Z" fill="#9a32cd" stroke="#9a32cd" stroke-width="1"/>
<path d="M913.2,1717.0L898.7,1720.6L899.9,1710.3Z" fill="#9a32cd" stroke="#9a32cd" stroke-width="1"/>
<path d="M1637.0,252.3L1651.9,251.1L1649.1,261.1Z" fill="#9a32cd" stroke="#9a32cd" stroke-width="1"/>
<path d="M1648.9,235.2L1662.7,229.6L1663.1,240.0Z" fill="#9a32cd" stroke="#9a32cd" stroke-width="1"/>
<path d="M1179.5,115.3L1193.5,110.2L1193.5,120.6Z" fill="#9a32cd" stroke="#9a32cd" stroke-width="1"/>
<path d="M284.7,368.6L298.3,362.4L299.0,372.7Z" fill="#9a32cd" stroke="#9a32cd" stroke-width="1"/>
<path d="M1552.7,988.1L1549.5,973.5L1559.8,974.9Z" fill="#9a32cd" stroke="#9a32cd" stroke-width="1"/>
<path d="M1560.4,988.1L1563.7,973.5L1572.4,979.2Z" fill="#9a32cd" stroke="#9a32cd" stroke-width="1"/>
<path d="M1956.3,855.6L1942.3,860.8L1942.3,850.4Z" fill="#9a32cd" stroke="#9a32cd" stroke-width="1"/>
<path d="M1584.6,988.1L1595.4,977.8L1599.5,987.4Z" fill="#9a32cd" stroke="#9a32cd" stroke-width="1"/>
<path d="M1613.4,990.5L1626.9,984.1L1627.8,994.5Z" fill="#9a32cd" stroke="#9a32cd" stroke-width="1"/>
<path d="M1963.8,988.7L1950.7,995.8L1949.2,985.6Z" fill="#9a32cd" stroke="#9a32cd" stroke-width="1"/>
<path d="M1613.4,1010.8L1627.9,1007.3L1626.7,1017.6Z" fill="#9a32cd" stroke="#9a32cd" stroke-width="1"/>
<path d="M267.2,1967.0L281.2,1961.8L281.2,1972.2Z" fill="#9a32cd" stroke="#9a32cd" stroke-width="1"/>
<path d="M267.2,1973.6L281.4,1969.1L280.9,1979.5Z" fill="#9a32cd" stroke="#9a32cd" stroke-width="1"/>
<path d="M2872.4,445.3L2886.4,440.1L2886.4,450.5Z" fill="#9a32cd" stroke="#9a32cd" stroke-width="1"/>
<path d="M2595.4,352.3L2609.6,347.7L2609.2,358.1Z" fill="#9a32cd" stroke="#9a32cd" stroke-width="1"/>
<path d="M2373.4,392.0L2387.5,387.1L2387.3,397.5Z" fill="#9a32cd" stroke="#9a32cd" stroke-width="1"/>
<path d="M2550.4,497.9L2564.2,492.1L2564.6,502.5Z" fill="#9a32cd" stroke="#9a32cd" stroke-width="1"/>
<path d="M2591.5,552.3L2604.5,545.0L2606.1,555.3Z" fill="#9a32cd" stroke="#9a32cd" stroke-width="1"/>
<path d="M2084.0,561.0L2098.5,557.6L2097.2,567.9Z" fill="#9a32cd" stroke="#9a32cd" stroke-width="1"/>
<path d="M2084.0,543.4L2097.7,537.4L2098.3,547.8Z" fill="#9a32cd" stroke="#9a32cd" stroke-width="1"/>
<path d="M2444.5,511.7L2432.3,520.3L2429.6,510.2Z" fill="#9a32cd" stroke="#9a32cd" stroke-width="1"/>
<path d="M2444.2,493.5L2429.3,492.5L2433.6,483.0Z" fill="#9a32cd" stroke="#9a32cd" stroke-width="1"/>
<rect x="808.1" y="101.3" width="371.4" height="26" fill="#fff" stroke="#000" stroke-width="1" shape-rendering="crispEdges"/>
<text x="992.6" y="118.7" text-anchor="middle" font-weight="bold" fill="#000" textLength="345.9" lengthAdjust="spacingAndGlyphs">ACE_Atomic_Op&lt; TAO_SYNCH_MUTEX, unsigned long &gt;</text>
<rect x="920.2" y="149.5" width="147.2" height="26" fill="#bfbfbf" stroke="#000" stroke-width="1" shape-rendering="crispEdges"/>
<text x="992.6" y="166.9" text-anchor="middle" font-weight="normal" fill="#000" textLength="121.7" lengthAdjust="spacingAndGlyphs">TAO_DynAnyFactory</text>
<rect x="921.2" y="197.4" width="145.2" height="26" fill="#fff" stroke="#000" stroke-width="1" shape-rendering="crispEdges"/>
<text x="992.6" y="214.8" text-anchor="middle" font-weight="bold" fill="#000" textLength="119.7" lengthAdjust="spacingAndGlyphs">TAO_Policy_Current</text>
<rect x="787.0" y="245.4" width="413.6" height="26" fill="#fff" stroke="#000" stroke-width="1" shape-rendering="crispEdges"/>
<text x="992.6" y="262.8" text-anchor="middle" font-weight="bold" fill="#000" textLength="388.1" lengthAdjust="spacingAndGlyphs">ACE_Atomic_Op&lt; ACE_SYNCH_NULL_MUTEX, unsigned long &gt;</text>
<rect x="917.0" y="344.0" width="153.6" height="26" fill="#fff" stroke="#000" stroke-width="1" shape-rendering="crispEdges"/>
<text x="992.6" y="361.4" text-anchor="middle" font-weight="bold" fill="#000" textLength="128.1" lengthAdjust="spacingAndGlyphs">TAO_Policy_Manager</text>
<rect x="943.0" y="392.0" width="101.6" height="26" fill="#fff" stroke="#000" stroke-width="1" shape-rendering="crispEdges"/>
<text x="992.6" y="409.4" text-anchor="middle" font-weight="bold" fill="#000" textLength="76.1" lengthAdjust="spacingAndGlyphs">TAO_Adapter</text>
<rect x="891.0" y="440.0" width="205.6" height="26" fill="#fff" stroke="#ff0000" stroke-width="1" shape-rendering="crispEdges"/>
<text x="992.6" y="457.4" text-anchor="middle" font-weight="bold" fill="#000" textLength="180.1" lengthAdjust="spacingAndGlyphs">TAO_Pseudo_Var_T&lt; Object &gt;</text>
<rect x="909.0" y="488.0" width="169.6" height="26" fill="#fff" stroke="#ff0000" stroke-width="1" shape-rendering="crispEdges"/>
<text x="992.6" y="505.4" text-anchor="middle" font-weight="bold" fill="#000" textLength="144.1" lengthAdjust="spacingAndGlyphs">TAO_Valuetype_Adapter</text>
<rect x="895.0" y="536.0" width="197.6" height="26" fill="#fff" stroke="#000" stroke-width="1" shape-rendering="crispEdges"/>
<text x="992.6" y="553.4" text-anchor="middle" font-weight="bold" fill="#000" textLength="172.1" lengthAdjust="spacingAndGlyphs">TAO_IORInterceptor_Adapter</text>
<rect x="913.0" y="584.0" width="161.6" height="26" fill="#fff" stroke="#000" stroke-width="1" shape-rendering="crispEdges"/>
<text x="992.6" y="601.4" text-anchor="middle" font-weight="bold" fill="#000" textLength="136.1" lengthAdjust="spacingAndGlyphs">TAO_Object_Ref_Table</text>
<rect x="929.4" y="685.4" width="128.8" height="26" fill="#fff" stroke="#000" stroke-width="1" shape-rendering="crispEdges"/>
<text x="992.6" y="702.8" text-anchor="middle" font-weight="bold" fill="#000" textLength="103.3" lengthAdjust="spacingAndGlyphs">ACE_Time_Value</text>
<rect x="892.0" y="733.3" width="203.6" height="26" fill="#fff" stroke="#ff0000" stroke-width="1" shape-rendering="crispEdges"/>
<text x="992.6" y="750.7" text-anchor="middle" font-weight="bold" fill="#000" textLength="178.1" lengthAdjust="spacingAndGlyphs">TAO_Fault_Tolerance_Service</text>
<rect x="895.0" y="844.3" width="197.6" height="26" fill="#fff" stroke="#000" stroke-width="1" shape-rendering="crispEdges"/>
<text x="992.6" y="861.7" text-anchor="middle" font-weight="bold" fill="#000" textLength="172.1" lengthAdjust="spacingAndGlyphs">TAO_Cleanup_Func_Registry</text>
<rect x="835.4" y="892.2" width="316.8" height="26" fill="#fff" stroke="#ff0000" stroke-width="1" shape-rendering="crispEdges"/>
<text x="992.6" y="909.6" text-anchor="middle" font-weight="bold" fill="#000" textLength="291.3" lengthAdjust="spacingAndGlyphs">ACE_Intrusive_Auto_Ptr&lt; ACE_Service_Gestalt &gt;</text>
<rect x="901.3" y="940.5" width="185.0" height="26" fill="#fff" stroke="#ff0000" stroke-width="1" shape-rendering="crispEdges"/>
<text x="992.6" y="957.9" text-anchor="middle" font-weight="bold" fill="#000" textLength="159.5" lengthAdjust="spacingAndGlyphs">ACE_Unbounded_Set&lt; T &gt;</text>
<rect x="905.3" y="988.4" width="177.0" height="26" fill="#fff" stroke="#000" stroke-width="1" shape-rendering="crispEdges"/>
<text x="992.6" y="1005.8" text-anchor="middle" font-weight="bold" fill="#000" textLength="151.5" lengthAdjust="spacingAndGlyphs">TAO_Request_Dispatcher</text>
<rect x="912.3" y="1036.3" width="163.0" height="26" fill="#fff" stroke="#000" stroke-width="1" shape-rendering="crispEdges"/>
<text x="992.6" y="1053.7" text-anchor="middle" font-weight="bold" fill="#000" textLength="137.5" lengthAdjust="spacingAndGlyphs">TAO_Flushing_Strategy</text>
<rect x="927.2" y="1147.0" width="133.2" height="26" fill="#fff" stroke="#ff0000" stroke-width="1" shape-rendering="crispEdges"/>
<text x="992.6" y="1164.4" text-anchor="middle" font-weight="bold" fill="#000" textLength="107.7" lengthAdjust="spacingAndGlyphs">TAO_Stub_Factory</text>
<rect x="924.2" y="1195.0" width="139.2" height="26" fill="#fff" stroke="#ff0000" stroke-width="1" shape-rendering="crispEdges"/>
<text x="992.6" y="1212.4" text-anchor="middle" font-weight="bold" fill="#000" textLength="113.7" lengthAdjust="spacingAndGlyphs">TAO_BiDir_Adapter</text>
<rect x="895.0" y="1243.3" width="197.6" height="26" fill="#fff" stroke="#ff0000" stroke-width="1" shape-rendering="crispEdges"/>
<text x="992.6" y="1260.7" text-anchor="middle" font-weight="bold" fill="#000" textLength="172.1" lengthAdjust="spacingAndGlyphs">TAO_Client_Strategy_Factory</text>
<rect x="885.0" y="1291.2" width="217.6" height="26" fill="#fff" stroke="#ff0000" stroke-width="1" shape-rendering="crispEdges"/>
<text x="992.6" y="1308.6" text-anchor="middle" font-weight="bold" fill="#000" textLength="192.1" lengthAdjust="spacingAndGlyphs">TAO_Endpoint_Selector_Factory</text>
<rect x="911.8" y="1339.0" width="164.0" height="26" fill="#fff" stroke="#000" stroke-width="1" shape-rendering="crispEdges"/>
<text x="992.6" y="1356.4" text-anchor="middle" font-weight="bold" fill="#000" textLength="138.5" lengthAdjust="spacingAndGlyphs">TAO_Codeset_Manager</text>
<rect x="888.1" y="1387.0" width="211.4" height="26" fill="#fff" stroke="#ff0000" stroke-width="1" shape-rendering="crispEdges"/>
<text x="992.6" y="1404.4" text-anchor="middle" font-weight="bold" fill="#000" textLength="185.9" lengthAdjust="spacingAndGlyphs">TAO_Service_Context_Registry</text>
<rect x="903.0" y="1435.0" width="181.6" height="26" fill="#fff" stroke="#ff0000" stroke-width="1" shape-rendering="crispEdges"/>
<text x="992.6" y="1452.4" text-anchor="middle" font-weight="bold" fill="#000" textLength="156.1" lengthAdjust="spacingAndGlyphs">TAO_Collocation_Resolver</text>
<rect x="918.9" y="1483.0" width="149.8" height="26" fill="#fff" stroke="#ff0000" stroke-width="1" shape-rendering="crispEdges"/>
<text x="992.6" y="1500.4" text-anchor="middle" font-weight="bold" fill="#000" textLength="124.3" lengthAdjust="spacingAndGlyphs">TAO_Parser_Registry</text>
<rect x="913.2" y="1531.0" width="161.2" height="26" fill="#fff" stroke="#ff0000" stroke-width="1" shape-rendering="crispEdges"/>
<text x="992.6" y="1548.4" text-anchor="middle" font-weight="bold" fill="#000" textLength="135.7" lengthAdjust="spacingAndGlyphs">TAO_ORB_Parameters</text>
<rect x="863.0" y="1579.0" width="261.6" height="26" fill="#fff" stroke="#ff0000" stroke-width="1" shape-rendering="crispEdges"/>
<text x="992.6" y="1596.4" text-anchor="middle" font-weight="bold" fill="#000" textLength="236.1" lengthAdjust="spacingAndGlyphs">TAO_Network_Priority_Protocols_Hooks</text>
<rect x="915.0" y="1627.0" width="157.6" height="26" fill="#fff" stroke="#ff0000" stroke-width="1" shape-rendering="crispEdges"/>
<text x="992.6" y="1644.4" text-anchor="middle" font-weight="bold" fill="#000" textLength="132.1" lengthAdjust="spacingAndGlyphs">TAO_Protocols_Hooks</text>
<rect x="913.2" y="1713.5" width="161.2" height="26" fill="#fff" stroke="#ff0000" stroke-width="1" shape-rendering="crispEdges"/>
<text x="992.6" y="1730.9" text-anchor="middle" font-weight="bold" fill="#000" textLength="135.7" lengthAdjust="spacingAndGlyphs">ACE_Thread_Manager</text>
<rect x="845.5" y="1761.4" width="296.6" height="26" fill="#fff" stroke="#000" stroke-width="1" shape-rendering="crispEdges"/>
<text x="992.6" y="1778.8" text-anchor="middle" font-weight="bold" fill="#000" textLength="271.1" lengthAdjust="spacingAndGlyphs">ACE_Lock_Adapter&lt; TAO_SYNCH_MUTEX &gt;</text>
<rect x="923.3" y="1809.3" width="141.0" height="26" fill="#fff" stroke="#ff0000" stroke-width="1" shape-rendering="crispEdges"/>
<text x="992.6" y="1826.7" text-anchor="middle" font-weight="bold" fill="#000" textLength="115.5" lengthAdjust="spacingAndGlyphs">TAO_ZIOP_Adapter</text>
<rect x="892.0" y="1857.2" width="203.6" height="26" fill="#fff" stroke="#ff0000" stroke-width="1" shape-rendering="crispEdges"/>
<text x="992.6" y="1874.6" text-anchor="middle" font-weight="bold" fill="#000" textLength="178.1" lengthAdjust="spacingAndGlyphs">TAO_Server_Strategy_Factory</text>
<rect x="912.3" y="1905.0" width="163.0" height="26" fill="#fff" stroke="#ff0000" stroke-width="1" shape-rendering="crispEdges"/>
<text x="992.6" y="1922.4" text-anchor="middle" font-weight="bold" fill="#000" textLength="137.5" lengthAdjust="spacingAndGlyphs">TAO_Resource_Factory</text>
<rect x="28.1" y="7.9" width="393.3" height="26" fill="#fff" stroke="#000" stroke-width="1" shape-rendering="crispEdges"/>
<text x="223.6" y="25.3" text-anchor="middle" font-weight="bold" fill="#000" textLength="367.8" lengthAdjust="spacingAndGlyphs">ACE_Atomic_Op_Ex&lt; TAO_SYNCH_MUTEX, unsigned long &gt;</text>
<rect x="151.2" y="169.4" width="146.3" height="26" fill="#fff" stroke="#000" stroke-width="1" shape-rendering="crispEdges"/>
<text x="223.2" y="186.8" text-anchor="middle" font-weight="bold" fill="#000" textLength="120.8" lengthAdjust="spacingAndGlyphs">CORBA::LocalObject</text>
<rect x="7.0" y="245.4" width="436.4" height="26" fill="#fff" stroke="#000" stroke-width="1" shape-rendering="crispEdges"/>
<text x="224.0" y="262.8" text-anchor="middle" font-weight="bold" fill="#000" textLength="410.9" lengthAdjust="spacingAndGlyphs">ACE_Atomic_Op_Ex&lt; ACE_SYNCH_NULL_MUTEX, unsigned long &gt;</text>
<rect x="165.2" y="363.4" width="119.1" height="26" fill="#fff" stroke="#ff0000" stroke-width="1" shape-rendering="crispEdges"/>
<text x="223.6" y="380.8" text-anchor="middle" font-weight="bold" fill="#000" textLength="93.6" lengthAdjust="spacingAndGlyphs">TAO_Policy_Set</text>
<rect x="135.3" y="1232.3" width="178.5" height="26" fill="#fff" stroke="#ff0000" stroke-width="1" shape-rendering="crispEdges"/>
<text x="223.4" y="1249.7" text-anchor="middle" font-weight="bold" fill="#000" textLength="153.0" lengthAdjust="spacingAndGlyphs">ACE_String_Base&lt; char &gt;</text>
<rect x="181.0" y="1954.7" width="86.2" height="26" fill="#fff" stroke="#000" stroke-width="1" shape-rendering="crispEdges"/>
<text x="222.9" y="1972.1" text-anchor="middle" font-weight="bold" fill="#000" textLength="60.7" lengthAdjust="spacingAndGlyphs">ACE_Lock</text>
<rect x="1456.3" y="227.2" width="192.1" height="26" fill="#fff" stroke="#000" stroke-width="1" shape-rendering="crispEdges"/>
<text x="1551.1" y="244.6" text-anchor="middle" font-weight="bold" fill="#000" textLength="166.6" lengthAdjust="spacingAndGlyphs">TAO_Configurable_Refcount</text>
<rect x="1492.4" y="988.4" width="120.8" height="26" fill="#fff" stroke="#000" stroke-width="1" shape-rendering="crispEdges"/>
<text x="1551.6" y="1005.8" text-anchor="middle" font-weight="bold" fill="#000" textLength="95.3" lengthAdjust="spacingAndGlyphs">TAO_ORB_Core</text>
<rect x="1988.0" y="536.0" width="95.4" height="26" fill="#fff" stroke="#ff0000" stroke-width="1" shape-rendering="crispEdges"/>
<text x="2034.5" y="553.4" text-anchor="middle" font-weight="bold" fill="#000" textLength="69.9" lengthAdjust="spacingAndGlyphs">TAO_Profile</text>
<rect x="1956.4" y="852.2" width="159.1" height="26" fill="#fff" stroke="#000" stroke-width="1" shape-rendering="crispEdges"/>
<text x="2034.8" y="869.6" text-anchor="middle" font-weight="bold" fill="#000" textLength="133.6" lengthAdjust="spacingAndGlyphs">TAO_Adapter_Registry</text>
<rect x="1903.2" y="963.0" width="265.5" height="26" fill="#fff" stroke="#ff0000" stroke-width="1" shape-rendering="crispEdges"/>
<text x="2034.7" y="980.4" text-anchor="middle" font-weight="bold" fill="#000" textLength="240.0" lengthAdjust="spacingAndGlyphs">TAO_Thread_Lane_Resources_Manager</text>
<rect x="2192.8" y="367.0" width="180.7" height="26" fill="#fff" stroke="#000" stroke-width="1" shape-rendering="crispEdges"/>
<text x="2282.0" y="384.4" text-anchor="middle" font-weight="bold" fill="#000" textLength="155.2" lengthAdjust="spacingAndGlyphs">TAO_ORB_Core_Auto_Ptr</text>
<rect x="2399.0" y="341.0" width="196.4" height="26" fill="#fff" stroke="#ff0000" stroke-width="1" shape-rendering="crispEdges"/>
<text x="2496.0" y="358.4" text-anchor="middle" font-weight="bold" fill="#000" textLength="170.9" lengthAdjust="spacingAndGlyphs">TAO_Pseudo_Var_T&lt; ORB &gt;</text>
<rect x="2444.2" y="491.4" width="105.1" height="26" fill="#fff" stroke="#000" stroke-width="1" shape-rendering="crispEdges"/>
<text x="2495.6" y="508.8" text-anchor="middle" font-weight="bold" fill="#000" textLength="79.6" lengthAdjust="spacingAndGlyphs">TAO_MProfile</text>
<rect x="2401.2" y="539.3" width="189.8" height="26" fill="#fff" stroke="#000" stroke-width="1" shape-rendering="crispEdges"/>
<text x="2494.9" y="556.7" text-anchor="middle" font-weight="bold" fill="#000" textLength="164.3" lengthAdjust="spacingAndGlyphs">TAO_Abstract_ServantBase</text>
<rect x="2788.4" y="433.3" width="83.9" height="26" fill="#fff" stroke="#000" stroke-width="1" shape-rendering="crispEdges"/>
<text x="2829.2" y="450.7" text-anchor="middle" font-weight="bold" fill="#000" textLength="58.4" lengthAdjust="spacingAndGlyphs">TAO_Stub</text>
<rect x="3016.0" y="433.3" width="115.2" height="26" fill="#fff" stroke="#000" stroke-width="1" shape-rendering="crispEdges"/>
<text x="3072.4" y="450.7" text-anchor="middle" font-weight="bold" fill="#000" textLength="89.7" lengthAdjust="spacingAndGlyphs">CORBA::Object</text>
<text x="615.0" y="48.5" text-anchor="middle" font-weight="bold" textLength="32.0" lengthAdjust="spacingAndGlyphs">impl_</text>
<text x="615.0" y="254.5" text-anchor="middle" font-weight="bold" textLength="32.0" lengthAdjust="spacingAndGlyphs">impl_</text>
<text x="615.0" y="370.5" text-anchor="middle" font-weight="bold" textLength="32.0" lengthAdjust="spacingAndGlyphs">impl_</text>
<text x="1328.0" y="148.0" text-anchor="middle" font-weight="bold" textLength="98.7" lengthAdjust="spacingAndGlyphs">mutex_refcount_</text>
<text x="1328.0" y="243.8" text-anchor="middle" font-weight="bold" textLength="84.4" lengthAdjust="spacingAndGlyphs">null_refcount_</text>
<text x="1328.4" y="199.5" text-anchor="middle" font-weight="bold" textLength="55.8" lengthAdjust="spacingAndGlyphs">refcount_</text>
<text x="1328.0" y="272.8" text-anchor="middle" font-weight="bold" textLength="91.2" lengthAdjust="spacingAndGlyphs">policy_current_</text>
<text x="1551.0" y="360.9" text-anchor="middle" font-weight="bold" textLength="57.9" lengthAdjust="spacingAndGlyphs">adapters_</text>
<text x="1327.5" y="413.6" text-anchor="middle" font-weight="bold" textLength="100.1" lengthAdjust="spacingAndGlyphs">policy_manager_</text>
<text x="1327.5" y="458.7" text-anchor="middle" font-weight="bold" textLength="79.6" lengthAdjust="spacingAndGlyphs">poa_adapter_</text>
<text x="1327.5" y="503.7" text-anchor="middle" font-weight="bold" textLength="42.2" lengthAdjust="spacingAndGlyphs">rt_orb_</text>
<text x="1327.5" y="518.4" text-anchor="middle" font-weight="bold" textLength="77.6" lengthAdjust="spacingAndGlyphs">poa_current_</text>
<text x="1327.5" y="533.0" text-anchor="middle" font-weight="bold" textLength="64.7" lengthAdjust="spacingAndGlyphs">rt_current_</text>
<text x="1327.5" y="547.6" text-anchor="middle" font-weight="bold" textLength="59.2" lengthAdjust="spacingAndGlyphs">root_poa_</text>
<text x="1327.5" y="592.5" text-anchor="middle" font-weight="bold" textLength="114.4" lengthAdjust="spacingAndGlyphs">valuetype_adapter_</text>
<text x="1327.5" y="638.4" text-anchor="middle" font-weight="bold" textLength="144.3" lengthAdjust="spacingAndGlyphs">ior_interceptor_adapter_</text>
<text x="1327.5" y="683.9" text-anchor="middle" font-weight="bold" textLength="100.8" lengthAdjust="spacingAndGlyphs">object_ref_table_</text>
<text x="992.7" y="644.0" text-anchor="middle" font-weight="bold" textLength="56.5" lengthAdjust="spacingAndGlyphs">max_time</text>
<text x="992.7" y="658.6" text-anchor="middle" font-weight="bold" textLength="25.2" lengthAdjust="spacingAndGlyphs">zero</text>
<text x="1326.5" y="729.0" text-anchor="middle" font-weight="bold" textLength="193.3" lengthAdjust="spacingAndGlyphs">thread_per_connection_timeout_</text>
<text x="1326.5" y="775.8" text-anchor="middle" font-weight="bold" textLength="64.0" lengthAdjust="spacingAndGlyphs">ft_service_</text>
<text x="992.0" y="780.6" text-anchor="middle" font-weight="bold" textLength="99.4" lengthAdjust="spacingAndGlyphs">default_policies_</text>
<text x="1326.5" y="862.0" text-anchor="middle" font-weight="bold" textLength="117.1" lengthAdjust="spacingAndGlyphs">tss_cleanup_funcs_</text>
<text x="1326.5" y="911.0" text-anchor="middle" font-weight="bold" textLength="43.6" lengthAdjust="spacingAndGlyphs">config_</text>
<text x="1326.5" y="962.4" text-anchor="middle" font-weight="bold" textLength="113.7" lengthAdjust="spacingAndGlyphs">protocol_factories_</text>
<text x="1326.5" y="996.0" text-anchor="middle" font-weight="bold" textLength="119.8" lengthAdjust="spacingAndGlyphs">request_dispatcher_</text>
<text x="1326.5" y="1016.5" text-anchor="middle" font-weight="bold" textLength="108.9" lengthAdjust="spacingAndGlyphs">flushing_strategy_</text>
<text x="992.7" y="1082.9" text-anchor="middle" font-weight="bold" textLength="61.3" lengthAdjust="spacingAndGlyphs">server_id_</text>
<text x="613.0" y="1284.7" text-anchor="middle" font-weight="bold" textLength="119.1" lengthAdjust="spacingAndGlyphs">stub_factory_name_</text>
<text x="613.0" y="1299.4" text-anchor="middle" font-weight="bold" textLength="164.8" lengthAdjust="spacingAndGlyphs">collocation_resolver_name_</text>
<text x="613.0" y="1314.0" text-anchor="middle" font-weight="bold" textLength="94.6" lengthAdjust="spacingAndGlyphs">default_init_ref_</text>
<text x="613.0" y="1328.7" text-anchor="middle" font-weight="bold" textLength="198.8" lengthAdjust="spacingAndGlyphs">endpoint_selector_factory_name_</text>
<text x="613.0" y="1343.3" text-anchor="middle" font-weight="bold" textLength="144.3" lengthAdjust="spacingAndGlyphs">protocols_hooks_name_</text>
<text x="613.0" y="1358.0" text-anchor="middle" font-weight="bold" textLength="115.1" lengthAdjust="spacingAndGlyphs">poa_factory_name_</text>
<text x="613.0" y="1372.6" text-anchor="middle" font-weight="bold" textLength="285.3" lengthAdjust="spacingAndGlyphs">thread_lane_resources_manager_factory_name_</text>
<text x="613.0" y="1387.2" text-anchor="middle" font-weight="bold" textLength="83.7" lengthAdjust="spacingAndGlyphs">pref_network_</text>
<text x="1327.0" y="1128.7" text-anchor="middle" font-weight="bold" textLength="80.3" lengthAdjust="spacingAndGlyphs">stub_factory_</text>
<text x="1327.5" y="1196.9" text-anchor="middle" font-weight="bold" textLength="84.4" lengthAdjust="spacingAndGlyphs">bidir_adapter_</text>
<text x="1327.5" y="1243.2" text-anchor="middle" font-weight="bold" textLength="86.5" lengthAdjust="spacingAndGlyphs">client_factory_</text>
<text x="1327.5" y="1292.1" text-anchor="middle" font-weight="bold" textLength="160.0" lengthAdjust="spacingAndGlyphs">endpoint_selector_factory_</text>
<text x="1327.5" y="1341.0" text-anchor="middle" font-weight="bold" textLength="111.0" lengthAdjust="spacingAndGlyphs">codeset_manager_</text>
<text x="1327.5" y="1390.9" text-anchor="middle" font-weight="bold" textLength="151.2" lengthAdjust="spacingAndGlyphs">service_context_registry_</text>
<text x="1327.5" y="1439.8" text-anchor="middle" font-weight="bold" textLength="125.9" lengthAdjust="spacingAndGlyphs">collocation_resolver_</text>
<text x="1327.5" y="1488.7" text-anchor="middle" font-weight="bold" textLength="96.0" lengthAdjust="spacingAndGlyphs">parser_registry_</text>
<text x="1327.5" y="1540.2" text-anchor="middle" font-weight="bold" textLength="76.9" lengthAdjust="spacingAndGlyphs">orb_params_</text>
<text x="1327.5" y="1576.2" text-anchor="middle" font-weight="bold" textLength="208.3" lengthAdjust="spacingAndGlyphs">network_priority_protocols_hooks_</text>
<text x="1327.5" y="1629.0" text-anchor="middle" font-weight="bold" textLength="105.5" lengthAdjust="spacingAndGlyphs">protocols_hooks_</text>
<text x="1327.0" y="1680.5" text-anchor="middle" font-weight="bold" textLength="21.8" lengthAdjust="spacingAndGlyphs">tm_</text>
<text x="1327.4" y="1746.6" text-anchor="middle" font-weight="bold" textLength="102.1" lengthAdjust="spacingAndGlyphs">data_block_lock_</text>
<text x="1327.4" y="1805.9" text-anchor="middle" font-weight="bold" textLength="82.4" lengthAdjust="spacingAndGlyphs">ziop_adapter_</text>
<text x="1327.4" y="1860.1" text-anchor="middle" font-weight="bold" textLength="91.3" lengthAdjust="spacingAndGlyphs">server_factory_</text>
<text x="1327.4" y="1908.0" text-anchor="middle" font-weight="bold" textLength="106.2" lengthAdjust="spacingAndGlyphs">resource_factory_</text>
<text x="991.6" y="1686.5" text-anchor="middle" font-weight="bold" textLength="53.1" lengthAdjust="spacingAndGlyphs">thr_mgr_</text>
<text x="1775.0" y="254.2" text-anchor="middle" font-weight="bold" textLength="55.8" lengthAdjust="spacingAndGlyphs">refcount_</text>
<text x="2496.2" y="220.9" text-anchor="middle" font-weight="bold" textLength="55.8" lengthAdjust="spacingAndGlyphs">refcount_</text>
<text x="2035.3" y="115.2" text-anchor="middle" font-weight="bold" textLength="55.8" lengthAdjust="spacingAndGlyphs">refcount_</text>
<text x="1775.0" y="300.6" text-anchor="middle" font-weight="bold" textLength="52.4" lengthAdjust="spacingAndGlyphs">policies_</text>
<text x="1775.0" y="502.6" text-anchor="middle" font-weight="bold" textLength="14.3" lengthAdjust="spacingAndGlyphs">p_</text>
<text x="1774.0" y="663.4" text-anchor="middle" font-weight="bold" textLength="59.2" lengthAdjust="spacingAndGlyphs">orb_core_</text>
<text x="1775.0" y="855.1" text-anchor="middle" font-weight="bold" textLength="102.8" lengthAdjust="spacingAndGlyphs">adapter_registry_</text>
<text x="1773.8" y="906.8" text-anchor="middle" font-weight="bold" textLength="59.2" lengthAdjust="spacingAndGlyphs">orb_core_</text>
<text x="1773.8" y="973.6" text-anchor="middle" font-weight="bold" textLength="59.2" lengthAdjust="spacingAndGlyphs">orb_core_</text>
<text x="1773.4" y="995.0" text-anchor="middle" font-weight="bold" textLength="198.8" lengthAdjust="spacingAndGlyphs">thread_lane_resources_manager_</text>
<text x="2495.0" y="1040.5" text-anchor="middle" font-weight="bold" textLength="59.2" lengthAdjust="spacingAndGlyphs">orb_core_</text>
<text x="1774.0" y="1962.6" text-anchor="middle" font-weight="bold" textLength="98.7" lengthAdjust="spacingAndGlyphs">profile_lock_ptr_</text>
<text x="2033.8" y="2014.5" text-anchor="middle" font-weight="bold" textLength="99.4" lengthAdjust="spacingAndGlyphs">object_init_lock_</text>
<text x="2944.5" y="443.4" text-anchor="middle" font-weight="bold" textLength="96.0" lengthAdjust="spacingAndGlyphs">protocol_proxy_</text>
<text x="2689.6" y="336.9" text-anchor="middle" font-weight="bold" textLength="76.9" lengthAdjust="spacingAndGlyphs">servant_orb_</text>
<text x="2689.6" y="351.5" text-anchor="middle" font-weight="bold" textLength="26.5" lengthAdjust="spacingAndGlyphs">orb_</text>
<text x="2494.8" y="387.9" text-anchor="middle" font-weight="bold" textLength="59.2" lengthAdjust="spacingAndGlyphs">orb_core_</text>
<text x="2689.5" y="434.4" text-anchor="middle" font-weight="bold" textLength="102.8" lengthAdjust="spacingAndGlyphs">forward_profiles_</text>
<text x="2689.5" y="449.0" text-anchor="middle" font-weight="bold" textLength="139.6" lengthAdjust="spacingAndGlyphs">forward_profiles_perm_</text>
<text x="2689.5" y="463.7" text-anchor="middle" font-weight="bold" textLength="85.8" lengthAdjust="spacingAndGlyphs">base_profiles_</text>
<text x="2690.7" y="508.7" text-anchor="middle" font-weight="bold" textLength="117.8" lengthAdjust="spacingAndGlyphs">collocated_servant_</text>
<text x="2496.0" y="586.1" text-anchor="middle" font-weight="bold" textLength="89.9" lengthAdjust="spacingAndGlyphs">profile_in_use_</text>
<text x="2282.7" y="514.3" text-anchor="middle" font-weight="bold" textLength="38.8" lengthAdjust="spacingAndGlyphs">pfiles_</text>
<text x="2281.5" y="543.3" text-anchor="middle" font-weight="bold" textLength="70.1" lengthAdjust="spacingAndGlyphs">forward_to_</text>
<text x="2495.7" y="463.9" text-anchor="middle" font-weight="bold" textLength="85.8" lengthAdjust="spacingAndGlyphs">forward_from_</text>
</svg>
</body></html>
